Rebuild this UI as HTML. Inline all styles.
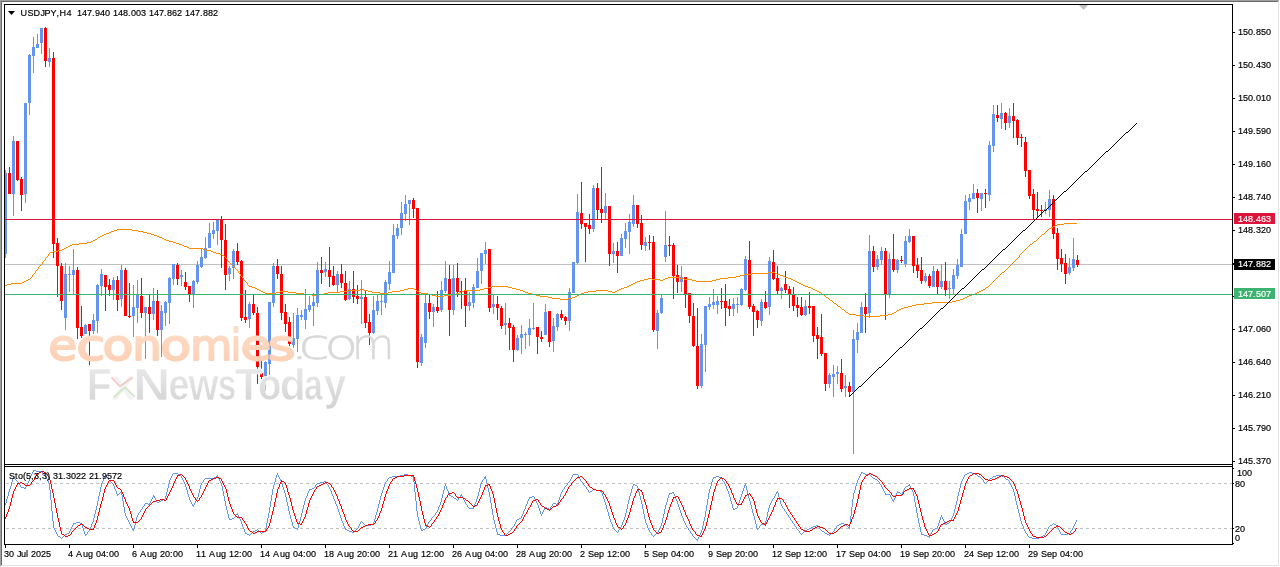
<!DOCTYPE html><html><head><meta charset="utf-8"><title>USDJPY,H4</title>
<style>html,body{margin:0;padding:0;background:#fff;overflow:hidden}body{width:1280px;height:567px;position:relative;font-family:"Liberation Sans",sans-serif}svg{position:absolute;left:0;top:0;display:block}text{font-family:"Liberation Sans",sans-serif}</style></head><body>
<svg width="1280" height="567" viewBox="0 0 1280 567">
<rect x="0" y="0" width="1280" height="567" fill="#fff"/>
<g shape-rendering="crispEdges">
<rect x="0" y="0" width="1279" height="1" fill="#a0a0a0"/><rect x="0" y="0" width="1" height="566" fill="#a0a0a0"/>
<rect x="1" y="1" width="1277" height="1" fill="#696969"/><rect x="1" y="1" width="1" height="564" fill="#696969"/>
<rect x="1278" y="1" width="1" height="565" fill="#e3e3e3"/><rect x="1" y="565" width="1278" height="1" fill="#e3e3e3"/>
</g>
<g shape-rendering="crispEdges">
<rect x="5" y="264" width="1227" height="1" fill="#c0c0c0"/>
<path d="M5.5 170V258M13.5 136V216M25.5 103V203M29.5 54V115M33.5 37V73M37.5 34V48M41.5 28V54M49.5 48V67M65.5 263V330M69.5 266V292M73.5 249V294M85.5 324V334M93.5 314V334M97.5 284V333M101.5 269V296M113.5 277V300M121.5 265V307M133.5 285V337M137.5 280V323M145.5 307V359M153.5 288V320M161.5 305V357M165.5 301V326M169.5 277V324M173.5 264V285M181.5 270V286M193.5 280V308M197.5 261V284M201.5 249V268M205.5 237V259M209.5 223V248M213.5 222V239M217.5 219V245M229.5 266V281M233.5 249V279M249.5 302V328M265.5 361V391M269.5 302V375M273.5 263V307M293.5 313V348M297.5 308V352M301.5 310V320M305.5 289V329M309.5 296V312M313.5 293V326M317.5 262V307M325.5 262V277M337.5 271V292M349.5 281V300M361.5 280V324M373.5 296V334M377.5 294V315M381.5 294V315M385.5 280V308M389.5 261V290M393.5 224V273M397.5 224V239M401.5 202V235M405.5 195V221M409.5 200V225M421.5 334V366M425.5 295V348M433.5 304V327M441.5 281V312M445.5 261V293M453.5 265V315M469.5 292V311M473.5 284V308M477.5 258V288M481.5 253V284M485.5 242V264M493.5 295V314M505.5 303V335M517.5 335V351M521.5 325V354M525.5 332V349M529.5 319V346M533.5 303V330M545.5 304V335M553.5 318V352M557.5 313V331M569.5 288V331M573.5 262V293M577.5 194V264M593.5 185V232M605.5 193V219M613.5 243V263M621.5 234V256M625.5 223V248M629.5 214V254M633.5 195V227M645.5 237V251M657.5 310V349M661.5 295V314M665.5 211V262M681.5 266V292M701.5 334V388M705.5 306V372M709.5 297V310M713.5 289V309M717.5 296V314M733.5 298V316M737.5 297V313M741.5 288V306M745.5 256V291M761.5 299V326M769.5 257V315M781.5 287V299M805.5 300V316M829.5 373V388M833.5 365V397M837.5 366V384M845.5 375V397M853.5 330V454M857.5 323V353M861.5 302V333M869.5 235V318M877.5 255V270M881.5 247V265M889.5 253V298M897.5 259V273M905.5 236V267M909.5 229V243M925.5 273V283M933.5 266V287M941.5 264V289M949.5 281V299M953.5 269V294M957.5 259V279M961.5 229V267M965.5 195V234M969.5 194V210M973.5 184V199M981.5 193V211M989.5 141V201M993.5 105V152M1001.5 103V129M1009.5 108V128M1045.5 202V214M1049.5 190V217M1069.5 258V275M1073.5 238V271" stroke="#6495ed" stroke-width="1" fill="none"/>
<path d="M4 173h3v81h-3zM12 141h3v53h-3zM24 103h3v91h-3zM28 55h3v48h-3zM32 47h3v9h-3zM36 44h3v4h-3zM40 28h3v15h-3zM48 58h3v4h-3zM64 274h3v44h-3zM68 274h3v1h-3zM72 270h3v5h-3zM84 325h3v9h-3zM92 320h3v11h-3zM96 285h3v36h-3zM100 274h3v12h-3zM112 280h3v10h-3zM120 270h3v29h-3zM132 307h3v9h-3zM136 294h3v14h-3zM144 307h3v6h-3zM152 301h3v13h-3zM160 311h3v19h-3zM164 302h3v11h-3zM168 278h3v25h-3zM172 264h3v15h-3zM180 275h3v2h-3zM192 281h3v13h-3zM196 265h3v17h-3zM200 257h3v10h-3zM204 248h3v10h-3zM208 233h3v15h-3zM212 230h3v4h-3zM216 219h3v12h-3zM228 268h3v6h-3zM232 251h3v17h-3zM248 304h3v15h-3zM264 362h3v14h-3zM268 302h3v62h-3zM272 266h3v37h-3zM292 338h3v7h-3zM296 315h3v24h-3zM300 315h3v2h-3zM304 309h3v11h-3zM308 305h3v5h-3zM312 302h3v4h-3zM316 270h3v33h-3zM324 269h3v3h-3zM336 274h3v11h-3zM348 289h3v10h-3zM360 297h3v2h-3zM372 310h3v23h-3zM376 301h3v10h-3zM380 301h3v1h-3zM384 282h3v21h-3zM388 272h3v12h-3zM392 235h3v38h-3zM396 228h3v8h-3zM400 213h3v15h-3zM404 204h3v10h-3zM408 200h3v4h-3zM420 337h3v26h-3zM424 303h3v40h-3zM432 307h3v5h-3zM440 290h3v20h-3zM444 278h3v13h-3zM452 278h3v32h-3zM468 302h3v4h-3zM472 287h3v16h-3zM476 271h3v17h-3zM480 253h3v18h-3zM484 250h3v4h-3zM492 304h3v3h-3zM504 323h3v2h-3zM516 338h3v12h-3zM520 334h3v4h-3zM524 334h3v1h-3zM528 328h3v7h-3zM532 328h3v1h-3zM544 312h3v23h-3zM552 326h3v15h-3zM556 314h3v13h-3zM568 292h3v29h-3zM572 262h3v31h-3zM576 212h3v51h-3zM592 188h3v41h-3zM604 206h3v7h-3zM612 251h3v3h-3zM620 238h3v18h-3zM624 231h3v8h-3zM628 222h3v10h-3zM632 205h3v19h-3zM644 242h3v4h-3zM656 313h3v18h-3zM660 298h3v15h-3zM664 245h3v12h-3zM680 277h3v5h-3zM700 344h3v42h-3zM704 306h3v39h-3zM708 304h3v3h-3zM712 302h3v3h-3zM716 301h3v4h-3zM732 304h3v5h-3zM736 304h3v1h-3zM740 289h3v16h-3zM744 259h3v31h-3zM760 302h3v19h-3zM768 261h3v46h-3zM780 288h3v3h-3zM804 306h3v9h-3zM828 375h3v9h-3zM832 374h3v3h-3zM836 372h3v2h-3zM844 386h3v2h-3zM852 339h3v53h-3zM856 332h3v8h-3zM860 307h3v26h-3zM868 251h3v62h-3zM876 259h3v8h-3zM880 251h3v9h-3zM888 259h3v35h-3zM896 260h3v10h-3zM904 241h3v23h-3zM908 236h3v6h-3zM924 276h3v5h-3zM932 271h3v16h-3zM940 281h3v6h-3zM948 288h3v1h-3zM952 275h3v14h-3zM956 265h3v11h-3zM960 234h3v33h-3zM964 201h3v33h-3zM968 198h3v4h-3zM972 193h3v6h-3zM980 193h3v6h-3zM988 145h3v50h-3zM992 114h3v32h-3zM1000 113h3v6h-3zM1008 116h3v7h-3zM1044 209h3v2h-3zM1048 199h3v11h-3zM1068 267h3v6h-3zM1072 259h3v9h-3z" fill="#6495ed"/>
<path d="M9.5 167V194M17.5 141V181M21.5 177V211M45.5 27V67M53.5 52V258M57.5 238V297M61.5 263V310M77.5 267V339M81.5 306V338M89.5 324V365M105.5 275V311M109.5 279V296M117.5 276V311M125.5 268V316M129.5 283V318M141.5 278V318M149.5 295V333M157.5 290V336M177.5 263V285M185.5 272V290M189.5 286V302M221.5 216V268M225.5 224V290M237.5 243V265M241.5 260V321M245.5 290V323M253.5 295V315M257.5 307V384M261.5 358V379M277.5 259V279M281.5 266V320M285.5 304V332M289.5 317V346M321.5 257V284M329.5 247V287M333.5 266V286M341.5 264V288M345.5 271V301M353.5 271V303M357.5 285V304M365.5 290V328M369.5 314V345M413.5 198V218M417.5 208V368M429.5 295V319M437.5 291V313M449.5 265V336M457.5 263V297M461.5 281V309M465.5 278V327M489.5 249V312M497.5 296V320M501.5 306V329M509.5 318V350M513.5 325V362M537.5 327V354M541.5 331V342M549.5 311V347M561.5 310V320M565.5 316V325M581.5 182V229M585.5 223V262M589.5 214V234M597.5 183V219M601.5 167V223M609.5 206V266M617.5 242V273M637.5 205V228M641.5 215V250M649.5 235V250M653.5 236V332M669.5 236V256M673.5 243V299M677.5 265V293M685.5 277V308M689.5 293V323M693.5 303V347M697.5 308V389M721.5 288V309M725.5 284V326M729.5 299V316M749.5 241V309M753.5 304V336M757.5 310V328M765.5 291V309M773.5 250V280M777.5 266V294M785.5 271V293M789.5 286V308M793.5 287V311M797.5 297V317M801.5 297V316M809.5 292V314M813.5 306V342M817.5 327V359M821.5 314V356M825.5 353V391M841.5 359V392M849.5 382V397M865.5 293V333M873.5 246V272M885.5 248V320M893.5 234V272M901.5 256V263M913.5 236V273M917.5 258V278M921.5 257V284M929.5 274V288M937.5 269V294M945.5 262V296M977.5 189V213M985.5 189V208M997.5 105V122M1005.5 112V130M1013.5 103V138M1017.5 119V145M1021.5 134V147M1025.5 137V177M1029.5 170V199M1033.5 189V219M1037.5 192V217M1041.5 205V217M1053.5 195V239M1057.5 228V270M1061.5 249V272M1065.5 254V284M1077.5 255V267" stroke="#ff0000" stroke-width="1" fill="none"/>
<path d="M8 173h3v21h-3zM16 141h3v39h-3zM20 179h3v16h-3zM44 28h3v33h-3zM52 58h3v186h-3zM56 243h3v23h-3zM60 266h3v35h-3zM76 270h3v58h-3zM80 327h3v9h-3zM88 324h3v7h-3zM104 275h3v12h-3zM108 285h3v5h-3zM116 280h3v20h-3zM124 270h3v46h-3zM128 316h3v1h-3zM140 296h3v17h-3zM148 307h3v7h-3zM156 301h3v29h-3zM176 265h3v14h-3zM184 282h3v5h-3zM188 286h3v8h-3zM220 219h3v21h-3zM224 240h3v35h-3zM236 251h3v11h-3zM240 261h3v57h-3zM244 317h3v3h-3zM252 304h3v9h-3zM256 313h3v54h-3zM260 373h3v4h-3zM276 266h3v8h-3zM280 274h3v39h-3zM284 312h3v12h-3zM288 322h3v22h-3zM320 270h3v3h-3zM328 270h3v7h-3zM332 276h3v9h-3zM340 274h3v9h-3zM344 283h3v17h-3zM352 289h3v8h-3zM356 296h3v3h-3zM364 297h3v26h-3zM368 322h3v11h-3zM412 200h3v9h-3zM416 208h3v154h-3zM428 303h3v9h-3zM436 307h3v4h-3zM448 279h3v31h-3zM456 278h3v14h-3zM460 291h3v1h-3zM464 290h3v16h-3zM488 249h3v59h-3zM496 304h3v4h-3zM500 308h3v18h-3zM508 323h3v5h-3zM512 327h3v23h-3zM536 327h3v10h-3zM540 337h3v2h-3zM548 311h3v31h-3zM560 314h3v4h-3zM564 317h3v4h-3zM580 213h3v11h-3zM584 223h3v4h-3zM588 225h3v4h-3zM596 188h3v22h-3zM600 209h3v4h-3zM608 206h3v48h-3zM616 251h3v5h-3zM636 205h3v19h-3zM640 223h3v22h-3zM648 242h3v1h-3zM652 242h3v88h-3zM668 245h3v1h-3zM672 245h3v31h-3zM676 275h3v7h-3zM684 277h3v17h-3zM688 293h3v23h-3zM692 316h3v30h-3zM696 346h3v40h-3zM720 301h3v1h-3zM724 301h3v7h-3zM728 306h3v3h-3zM748 260h3v47h-3zM752 306h3v6h-3zM756 311h3v9h-3zM764 302h3v6h-3zM772 262h3v17h-3zM776 278h3v13h-3zM784 284h3v6h-3zM788 289h3v5h-3zM792 294h3v12h-3zM796 305h3v3h-3zM800 307h3v8h-3zM808 306h3v2h-3zM812 306h3v30h-3zM816 335h3v4h-3zM820 337h3v17h-3zM824 353h3v31h-3zM840 373h3v16h-3zM848 386h3v6h-3zM864 307h3v7h-3zM872 251h3v16h-3zM884 251h3v43h-3zM892 259h3v11h-3zM900 260h3v1h-3zM912 236h3v30h-3zM916 265h3v6h-3zM920 270h3v11h-3zM928 276h3v10h-3zM936 271h3v16h-3zM944 281h3v9h-3zM976 193h3v5h-3zM984 193h3v1h-3zM996 115h3v3h-3zM1004 113h3v10h-3zM1012 116h3v5h-3zM1016 120h3v18h-3zM1020 137h3v1h-3zM1024 142h3v29h-3zM1028 170h3v26h-3zM1032 194h3v16h-3zM1036 209h3v2h-3zM1040 210h3v1h-3zM1052 199h3v35h-3zM1056 233h3v26h-3zM1060 258h3v6h-3zM1064 263h3v11h-3zM1076 260h3v5h-3z" fill="#ff0000"/>
</g>
<path d="M5.5 285v1M6.5 285v1M7.5 284v1M8.5 284v1M9.5 284v1M10.5 284v1M11.5 283v1M12.5 283v1M13.5 283v1M14.5 283v1M15.5 283v1M16.5 283v1M17.5 283v1M18.5 283v1M19.5 283v1M20.5 283v1M21.5 283v1M22.5 282v1M23.5 282v1M24.5 281v1M25.5 281v1M26.5 280v1M27.5 280v1M28.5 279v1M29.5 279v1M30.5 278v1M31.5 277v1M32.5 275v2M33.5 274v1M34.5 273v1M35.5 271v2M36.5 270v1M37.5 269v1M38.5 267v2M39.5 266v1M40.5 265v1M41.5 264v1M42.5 262v2M43.5 261v1M44.5 260v1M45.5 258v2M46.5 257v1M47.5 256v1M48.5 254v2M49.5 253v1M50.5 252v1M51.5 252v1M52.5 252v1M53.5 251v1M54.5 251v1M55.5 251v1M56.5 251v1M57.5 251v1M58.5 250v1M59.5 250v1M60.5 250v1M61.5 250v1M62.5 249v1M63.5 249v1M64.5 248v1M65.5 248v1M66.5 247v1M67.5 247v1M68.5 246v1M69.5 246v1M70.5 245v1M71.5 245v1M72.5 244v1M73.5 244v1M74.5 244v1M75.5 244v1M76.5 244v1M77.5 244v1M78.5 244v1M79.5 243v1M80.5 243v1M81.5 243v1M82.5 243v1M83.5 243v1M84.5 243v1M85.5 243v1M86.5 243v1M87.5 242v1M88.5 242v1M89.5 242v1M90.5 242v1M91.5 241v1M92.5 241v1M93.5 240v1M94.5 240v1M95.5 239v1M96.5 239v1M97.5 238v1M98.5 237v1M99.5 237v1M100.5 236v1M101.5 236v1M102.5 235v1M103.5 235v1M104.5 234v1M105.5 234v1M106.5 233v1M107.5 233v1M108.5 233v1M109.5 232v1M110.5 232v1M111.5 231v1M112.5 231v1M113.5 231v1M114.5 230v1M115.5 230v1M116.5 230v1M117.5 229v1M118.5 229v1M119.5 229v1M120.5 229v1M121.5 229v1M122.5 229v1M123.5 229v1M124.5 229v1M125.5 229v1M126.5 229v1M127.5 229v1M128.5 229v1M129.5 229v1M130.5 229v1M131.5 229v1M132.5 230v1M133.5 230v1M134.5 230v1M135.5 230v1M136.5 230v1M137.5 230v1M138.5 231v1M139.5 231v1M140.5 231v1M141.5 231v1M142.5 231v1M143.5 232v1M144.5 232v1M145.5 232v1M146.5 232v1M147.5 233v1M148.5 233v1M149.5 233v1M150.5 233v1M151.5 234v1M152.5 234v1M153.5 234v1M154.5 235v1M155.5 235v1M156.5 235v1M157.5 236v1M158.5 236v1M159.5 237v1M160.5 237v1M161.5 237v1M162.5 238v1M163.5 238v1M164.5 239v1M165.5 239v1M166.5 240v1M167.5 240v1M168.5 240v1M169.5 241v1M170.5 241v1M171.5 241v1M172.5 241v1M173.5 242v1M174.5 242v1M175.5 242v1M176.5 243v1M177.5 243v1M178.5 243v1M179.5 244v1M180.5 244v1M181.5 244v1M182.5 245v1M183.5 245v1M184.5 246v1M185.5 246v1M186.5 246v1M187.5 247v1M188.5 247v1M189.5 248v1M190.5 248v1M191.5 248v1M192.5 248v1M193.5 248v1M194.5 248v1M195.5 248v1M196.5 248v1M197.5 248v1M198.5 248v1M199.5 248v1M200.5 248v1M201.5 248v1M202.5 248v1M203.5 249v1M204.5 249v1M205.5 250v1M206.5 250v1M207.5 250v1M208.5 250v1M209.5 250v1M210.5 250v1M211.5 251v1M212.5 251v1M213.5 252v1M214.5 252v1M215.5 252v1M216.5 253v1M217.5 253v1M218.5 253v1M219.5 253v1M220.5 254v1M221.5 254v1M222.5 255v1M223.5 255v1M224.5 256v1M225.5 257v1M226.5 258v1M227.5 259v2M228.5 261v1M229.5 262v1M230.5 263v1M231.5 264v1M232.5 265v1M233.5 266v1M234.5 267v1M235.5 268v1M236.5 269v1M237.5 270v1M238.5 271v2M239.5 273v1M240.5 274v2M241.5 276v1M242.5 277v1M243.5 278v2M244.5 280v1M245.5 281v1M246.5 282v1M247.5 283v2M248.5 285v1M249.5 286v1M250.5 286v1M251.5 286v1M252.5 287v1M253.5 287v1M254.5 287v1M255.5 288v1M256.5 288v1M257.5 289v1M258.5 289v1M259.5 290v1M260.5 290v1M261.5 291v1M262.5 291v1M263.5 292v1M264.5 292v1M265.5 293v1M266.5 293v1M267.5 293v1M268.5 293v1M269.5 293v1M270.5 293v1M271.5 293v1M272.5 293v1M273.5 293v1M274.5 293v1M275.5 293v1M276.5 292v1M277.5 292v1M278.5 292v1M279.5 292v1M280.5 291v1M281.5 291v1M282.5 291v1M283.5 291v1M284.5 291v1M285.5 291v1M286.5 291v1M287.5 291v1M288.5 292v1M289.5 292v1M290.5 292v1M291.5 292v1M292.5 292v1M293.5 292v1M294.5 292v1M295.5 292v1M296.5 293v1M297.5 293v1M298.5 293v1M299.5 293v1M300.5 293v1M301.5 293v1M302.5 293v1M303.5 293v1M304.5 294v1M305.5 294v1M306.5 294v1M307.5 294v1M308.5 294v1M309.5 294v1M310.5 294v1M311.5 294v1M312.5 295v1M313.5 295v1M314.5 295v1M315.5 295v1M316.5 294v1M317.5 294v1M318.5 294v1M319.5 294v1M320.5 294v1M321.5 294v1M322.5 294v1M323.5 294v1M324.5 293v1M325.5 293v1M326.5 293v1M327.5 293v1M328.5 292v1M329.5 292v1M330.5 292v1M331.5 292v1M332.5 292v1M333.5 292v1M334.5 292v1M335.5 292v1M336.5 292v1M337.5 292v1M338.5 292v1M339.5 292v1M340.5 291v1M341.5 291v1M342.5 291v1M343.5 291v1M344.5 291v1M345.5 291v1M346.5 291v1M347.5 291v1M348.5 290v1M349.5 290v1M350.5 290v1M351.5 290v1M352.5 290v1M353.5 290v1M354.5 290v1M355.5 290v1M356.5 290v1M357.5 290v1M358.5 290v1M359.5 290v1M360.5 289v1M361.5 289v1M362.5 289v1M363.5 289v1M364.5 290v1M365.5 290v1M366.5 290v1M367.5 290v1M368.5 291v1M369.5 291v1M370.5 291v1M371.5 291v1M372.5 292v1M373.5 292v1M374.5 292v1M375.5 292v1M376.5 292v1M377.5 292v1M378.5 292v1M379.5 292v1M380.5 293v1M381.5 293v1M382.5 293v1M383.5 293v1M384.5 293v1M385.5 293v1M386.5 293v1M387.5 293v1M388.5 292v1M389.5 292v1M390.5 292v1M391.5 292v1M392.5 291v1M393.5 291v1M394.5 291v1M395.5 291v1M396.5 291v1M397.5 291v1M398.5 291v1M399.5 291v1M400.5 290v1M401.5 290v1M402.5 290v1M403.5 290v1M404.5 289v1M405.5 289v1M406.5 289v1M407.5 289v1M408.5 288v1M409.5 288v1M410.5 288v1M411.5 288v1M412.5 288v1M413.5 288v1M414.5 289v1M415.5 289v1M416.5 290v1M417.5 291v1M418.5 291v1M419.5 292v1M420.5 292v1M421.5 293v1M422.5 293v1M423.5 293v1M424.5 293v1M425.5 293v1M426.5 293v1M427.5 293v1M428.5 294v1M429.5 294v1M430.5 294v1M431.5 294v1M432.5 295v1M433.5 295v1M434.5 295v1M435.5 295v1M436.5 296v1M437.5 296v1M438.5 296v1M439.5 296v1M440.5 296v1M441.5 296v1M442.5 296v1M443.5 296v1M444.5 295v1M445.5 295v1M446.5 295v1M447.5 295v1M448.5 295v1M449.5 295v1M450.5 295v1M451.5 295v1M452.5 294v1M453.5 294v1M454.5 294v1M455.5 294v1M456.5 293v1M457.5 293v1M458.5 293v1M459.5 292v1M460.5 292v1M461.5 291v1M462.5 291v1M463.5 291v1M464.5 290v1M465.5 290v1M466.5 290v1M467.5 290v1M468.5 290v1M469.5 290v1M470.5 290v1M471.5 290v1M472.5 290v1M473.5 290v1M474.5 290v1M475.5 290v1M476.5 290v1M477.5 290v1M478.5 290v1M479.5 290v1M480.5 289v1M481.5 289v1M482.5 289v1M483.5 289v1M484.5 288v1M485.5 288v1M486.5 288v1M487.5 288v1M488.5 287v1M489.5 287v1M490.5 287v1M491.5 287v1M492.5 286v1M493.5 286v1M494.5 286v1M495.5 286v1M496.5 286v1M497.5 286v1M498.5 286v1M499.5 286v1M500.5 286v1M501.5 286v1M502.5 286v1M503.5 286v1M504.5 286v1M505.5 286v1M506.5 286v1M507.5 286v1M508.5 287v1M509.5 287v1M510.5 287v1M511.5 287v1M512.5 288v1M513.5 288v1M514.5 288v1M515.5 288v1M516.5 289v1M517.5 289v1M518.5 289v1M519.5 289v1M520.5 290v1M521.5 290v1M522.5 290v1M523.5 291v1M524.5 291v1M525.5 292v1M526.5 292v1M527.5 292v1M528.5 293v1M529.5 293v1M530.5 293v1M531.5 293v1M532.5 294v1M533.5 294v1M534.5 294v1M535.5 294v1M536.5 295v1M537.5 295v1M538.5 295v1M539.5 295v1M540.5 296v1M541.5 296v1M542.5 296v1M543.5 296v1M544.5 296v1M545.5 296v1M546.5 296v1M547.5 296v1M548.5 297v1M549.5 297v1M550.5 297v1M551.5 297v1M552.5 298v1M553.5 298v1M554.5 298v1M555.5 298v1M556.5 298v1M557.5 298v1M558.5 298v1M559.5 298v1M560.5 299v1M561.5 299v1M562.5 299v1M563.5 299v1M564.5 299v1M565.5 299v1M566.5 299v1M567.5 299v1M568.5 298v1M569.5 298v1M570.5 298v1M571.5 298v1M572.5 297v1M573.5 297v1M574.5 297v1M575.5 296v1M576.5 296v1M577.5 295v1M578.5 295v1M579.5 294v1M580.5 294v1M581.5 293v1M582.5 293v1M583.5 293v1M584.5 292v1M585.5 292v1M586.5 292v1M587.5 292v1M588.5 291v1M589.5 291v1M590.5 291v1M591.5 291v1M592.5 291v1M593.5 291v1M594.5 291v1M595.5 291v1M596.5 290v1M597.5 290v1M598.5 290v1M599.5 290v1M600.5 290v1M601.5 290v1M602.5 290v1M603.5 290v1M604.5 290v1M605.5 290v1M606.5 290v1M607.5 290v1M608.5 291v1M609.5 291v1M610.5 291v1M611.5 291v1M612.5 292v1M613.5 292v1M614.5 292v1M615.5 291v1M616.5 291v1M617.5 290v1M618.5 290v1M619.5 289v1M620.5 289v1M621.5 288v1M622.5 288v1M623.5 288v1M624.5 287v1M625.5 287v1M626.5 287v1M627.5 286v1M628.5 286v1M629.5 285v1M630.5 285v1M631.5 284v1M632.5 284v1M633.5 283v1M634.5 283v1M635.5 282v1M636.5 282v1M637.5 281v1M638.5 281v1M639.5 281v1M640.5 280v1M641.5 280v1M642.5 280v1M643.5 280v1M644.5 279v1M645.5 279v1M646.5 279v1M647.5 279v1M648.5 278v1M649.5 278v1M650.5 278v1M651.5 278v1M652.5 279v1M653.5 279v1M654.5 279v1M655.5 279v1M656.5 279v1M657.5 279v1M658.5 279v1M659.5 279v1M660.5 280v1M661.5 280v1M662.5 280v1M663.5 279v1M664.5 279v1M665.5 278v1M666.5 278v1M667.5 278v1M668.5 277v1M669.5 277v1M670.5 277v1M671.5 277v1M672.5 277v1M673.5 277v1M674.5 277v1M675.5 277v1M676.5 277v1M677.5 277v1M678.5 277v1M679.5 277v1M680.5 278v1M681.5 278v1M682.5 278v1M683.5 278v1M684.5 279v1M685.5 279v1M686.5 279v1M687.5 279v1M688.5 279v1M689.5 279v1M690.5 279v1M691.5 279v1M692.5 280v1M693.5 280v1M694.5 280v1M695.5 280v1M696.5 281v1M697.5 281v1M698.5 281v1M699.5 281v1M700.5 281v1M701.5 281v1M702.5 281v1M703.5 281v1M704.5 281v1M705.5 281v1M706.5 281v1M707.5 281v1M708.5 281v1M709.5 281v1M710.5 281v1M711.5 281v1M712.5 280v1M713.5 280v1M714.5 280v1M715.5 280v1M716.5 279v1M717.5 279v1M718.5 279v1M719.5 279v1M720.5 278v1M721.5 278v1M722.5 278v1M723.5 278v1M724.5 278v1M725.5 278v1M726.5 278v1M727.5 278v1M728.5 277v1M729.5 277v1M730.5 277v1M731.5 277v1M732.5 277v1M733.5 277v1M734.5 277v1M735.5 277v1M736.5 276v1M737.5 276v1M738.5 276v1M739.5 276v1M740.5 275v1M741.5 275v1M742.5 275v1M743.5 275v1M744.5 274v1M745.5 274v1M746.5 274v1M747.5 274v1M748.5 274v1M749.5 274v1M750.5 274v1M751.5 274v1M752.5 273v1M753.5 273v1M754.5 273v1M755.5 273v1M756.5 273v1M757.5 273v1M758.5 273v1M759.5 273v1M760.5 273v1M761.5 273v1M762.5 273v1M763.5 273v1M764.5 273v1M765.5 273v1M766.5 273v1M767.5 273v1M768.5 272v1M769.5 272v1M770.5 272v1M771.5 272v1M772.5 272v1M773.5 272v1M774.5 272v1M775.5 273v1M776.5 273v1M777.5 274v1M778.5 274v1M779.5 274v1M780.5 275v1M781.5 275v1M782.5 275v1M783.5 276v1M784.5 276v1M785.5 277v1M786.5 277v1M787.5 277v1M788.5 278v1M789.5 278v1M790.5 278v1M791.5 279v1M792.5 279v1M793.5 280v1M794.5 280v1M795.5 281v1M796.5 281v1M797.5 282v1M798.5 282v1M799.5 283v1M800.5 283v1M801.5 284v1M802.5 284v1M803.5 285v1M804.5 285v1M805.5 286v1M806.5 286v1M807.5 286v1M808.5 287v1M809.5 287v1M810.5 287v1M811.5 288v1M812.5 288v1M813.5 289v1M814.5 289v1M815.5 290v1M816.5 290v1M817.5 291v1M818.5 291v1M819.5 292v1M820.5 292v1M821.5 293v1M822.5 294v1M823.5 294v1M824.5 295v1M825.5 296v1M826.5 297v1M827.5 297v1M828.5 298v1M829.5 299v1M830.5 300v1M831.5 300v1M832.5 301v1M833.5 302v1M834.5 303v1M835.5 303v1M836.5 304v1M837.5 305v1M838.5 306v1M839.5 306v1M840.5 307v1M841.5 308v1M842.5 309v1M843.5 309v1M844.5 310v1M845.5 311v1M846.5 312v1M847.5 312v1M848.5 313v1M849.5 314v1M850.5 314v1M851.5 314v1M852.5 314v1M853.5 314v1M854.5 314v1M855.5 314v1M856.5 315v1M857.5 315v1M858.5 315v1M859.5 315v1M860.5 315v1M861.5 315v1M862.5 315v1M863.5 315v1M864.5 316v1M865.5 316v1M866.5 316v1M867.5 316v1M868.5 316v1M869.5 316v1M870.5 316v1M871.5 316v1M872.5 316v1M873.5 316v1M874.5 316v1M875.5 316v1M876.5 316v1M877.5 316v1M878.5 316v1M879.5 316v1M880.5 315v1M881.5 315v1M882.5 315v1M883.5 315v1M884.5 315v1M885.5 315v1M886.5 315v1M887.5 315v1M888.5 314v1M889.5 314v1M890.5 314v1M891.5 314v1M892.5 313v1M893.5 313v1M894.5 312v1M895.5 312v1M896.5 311v1M897.5 310v1M898.5 310v1M899.5 309v1M900.5 309v1M901.5 308v1M902.5 308v1M903.5 308v1M904.5 307v1M905.5 307v1M906.5 307v1M907.5 307v1M908.5 306v1M909.5 306v1M910.5 306v1M911.5 306v1M912.5 305v1M913.5 305v1M914.5 305v1M915.5 305v1M916.5 304v1M917.5 304v1M918.5 304v1M919.5 304v1M920.5 304v1M921.5 304v1M922.5 304v1M923.5 304v1M924.5 303v1M925.5 303v1M926.5 303v1M927.5 303v1M928.5 303v1M929.5 303v1M930.5 303v1M931.5 303v1M932.5 302v1M933.5 302v1M934.5 302v1M935.5 302v1M936.5 302v1M937.5 302v1M938.5 302v1M939.5 302v1M940.5 302v1M941.5 302v1M942.5 302v1M943.5 302v1M944.5 302v1M945.5 302v1M946.5 302v1M947.5 302v1M948.5 302v1M949.5 302v1M950.5 302v1M951.5 302v1M952.5 301v1M953.5 301v1M954.5 301v1M955.5 301v1M956.5 300v1M957.5 300v1M958.5 300v1M959.5 300v1M960.5 299v1M961.5 299v1M962.5 299v1M963.5 298v1M964.5 298v1M965.5 297v1M966.5 297v1M967.5 296v1M968.5 296v1M969.5 295v1M970.5 295v1M971.5 295v1M972.5 294v1M973.5 294v1M974.5 294v1M975.5 293v1M976.5 293v1M977.5 292v1M978.5 292v1M979.5 291v1M980.5 291v1M981.5 290v1M982.5 290v1M983.5 289v1M984.5 289v1M985.5 288v1M986.5 287v1M987.5 287v1M988.5 286v1M989.5 285v1M990.5 284v1M991.5 283v1M992.5 282v1M993.5 281v1M994.5 280v1M995.5 279v1M996.5 278v1M997.5 277v1M998.5 276v1M999.5 275v1M1000.5 274v1M1001.5 273v1M1002.5 272v1M1003.5 272v1M1004.5 271v1M1005.5 270v1M1006.5 269v1M1007.5 268v1M1008.5 267v1M1009.5 266v1M1010.5 265v1M1011.5 264v1M1012.5 263v1M1013.5 262v1M1014.5 261v1M1015.5 260v1M1016.5 259v1M1017.5 258v1M1018.5 257v1M1019.5 255v2M1020.5 254v1M1021.5 253v1M1022.5 252v1M1023.5 251v1M1024.5 250v1M1025.5 249v1M1026.5 248v1M1027.5 247v1M1028.5 246v1M1029.5 245v1M1030.5 244v1M1031.5 244v1M1032.5 243v1M1033.5 242v1M1034.5 241v1M1035.5 241v1M1036.5 240v1M1037.5 239v1M1038.5 238v1M1039.5 237v1M1040.5 236v1M1041.5 235v1M1042.5 234v1M1043.5 234v1M1044.5 233v1M1045.5 232v1M1046.5 231v1M1047.5 230v1M1048.5 229v1M1049.5 228v1M1050.5 228v1M1051.5 227v1M1052.5 227v1M1053.5 226v1M1054.5 226v1M1055.5 225v1M1056.5 225v1M1057.5 224v1M1058.5 224v1M1059.5 224v1M1060.5 224v1M1061.5 224v1M1062.5 224v1M1063.5 224v1M1064.5 223v1M1065.5 223v1M1066.5 223v1M1067.5 223v1M1068.5 223v1M1069.5 223v1M1070.5 223v1M1071.5 223v1M1072.5 223v1M1073.5 223v1M1074.5 223v1M1075.5 223v1M1076.5 223v1" stroke="#ff8c00" stroke-width="1" fill="none" shape-rendering="crispEdges"/>
<g shape-rendering="crispEdges">
<rect x="5" y="219" width="1227" height="1" fill="#dc143c"/>
<rect x="5" y="294" width="1227" height="1" fill="#3cb371"/>
</g>
<path d="M849.5 396v1M850.5 395v1M851.5 394v1M852.5 393v1M853.5 392v1M854.5 391v1M855.5 390v1M856.5 389v1M857.5 388v1M858.5 387v1M859.5 386v1M860.5 386v1M861.5 385v1M862.5 384v1M863.5 383v1M864.5 382v1M865.5 381v1M866.5 380v1M867.5 379v1M868.5 378v1M869.5 377v1M870.5 376v1M871.5 375v1M872.5 374v1M873.5 373v1M874.5 372v1M875.5 371v1M876.5 370v1M877.5 369v1M878.5 368v1M879.5 367v1M880.5 367v1M881.5 366v1M882.5 365v1M883.5 364v1M884.5 363v1M885.5 362v1M886.5 361v1M887.5 360v1M888.5 359v1M889.5 358v1M890.5 357v1M891.5 356v1M892.5 355v1M893.5 354v1M894.5 353v1M895.5 352v1M896.5 351v1M897.5 350v1M898.5 349v1M899.5 348v1M900.5 347v1M901.5 347v1M902.5 346v1M903.5 345v1M904.5 344v1M905.5 343v1M906.5 342v1M907.5 341v1M908.5 340v1M909.5 339v1M910.5 338v1M911.5 337v1M912.5 336v1M913.5 335v1M914.5 334v1M915.5 333v1M916.5 332v1M917.5 331v1M918.5 330v1M919.5 329v1M920.5 328v1M921.5 328v1M922.5 327v1M923.5 326v1M924.5 325v1M925.5 324v1M926.5 323v1M927.5 322v1M928.5 321v1M929.5 320v1M930.5 319v1M931.5 318v1M932.5 317v1M933.5 316v1M934.5 315v1M935.5 314v1M936.5 313v1M937.5 312v1M938.5 311v1M939.5 310v1M940.5 309v1M941.5 308v1M942.5 308v1M943.5 307v1M944.5 306v1M945.5 305v1M946.5 304v1M947.5 303v1M948.5 302v1M949.5 301v1M950.5 300v1M951.5 299v1M952.5 298v1M953.5 297v1M954.5 296v1M955.5 295v1M956.5 294v1M957.5 293v1M958.5 292v1M959.5 291v1M960.5 290v1M961.5 289v1M962.5 288v1M963.5 288v1M964.5 287v1M965.5 286v1M966.5 285v1M967.5 284v1M968.5 283v1M969.5 282v1M970.5 281v1M971.5 280v1M972.5 279v1M973.5 278v1M974.5 277v1M975.5 276v1M976.5 275v1M977.5 274v1M978.5 273v1M979.5 272v1M980.5 271v1M981.5 270v1M982.5 269v1M983.5 269v1M984.5 268v1M985.5 267v1M986.5 266v1M987.5 265v1M988.5 264v1M989.5 263v1M990.5 262v1M991.5 261v1M992.5 260v1M993.5 259v1M994.5 258v1M995.5 257v1M996.5 256v1M997.5 255v1M998.5 254v1M999.5 253v1M1000.5 252v1M1001.5 251v1M1002.5 250v1M1003.5 249v1M1004.5 249v1M1005.5 248v1M1006.5 247v1M1007.5 246v1M1008.5 245v1M1009.5 244v1M1010.5 243v1M1011.5 242v1M1012.5 241v1M1013.5 240v1M1014.5 239v1M1015.5 238v1M1016.5 237v1M1017.5 236v1M1018.5 235v1M1019.5 234v1M1020.5 233v1M1021.5 232v1M1022.5 231v1M1023.5 230v1M1024.5 230v1M1025.5 229v1M1026.5 228v1M1027.5 227v1M1028.5 226v1M1029.5 225v1M1030.5 224v1M1031.5 223v1M1032.5 222v1M1033.5 221v1M1034.5 220v1M1035.5 219v1M1036.5 218v1M1037.5 217v1M1038.5 216v1M1039.5 215v1M1040.5 214v1M1041.5 213v1M1042.5 212v1M1043.5 211v1M1044.5 210v1M1045.5 210v1M1046.5 209v1M1047.5 208v1M1048.5 207v1M1049.5 206v1M1050.5 205v1M1051.5 204v1M1052.5 203v1M1053.5 202v1M1054.5 201v1M1055.5 200v1M1056.5 199v1M1057.5 198v1M1058.5 197v1M1059.5 196v1M1060.5 195v1M1061.5 194v1M1062.5 193v1M1063.5 192v1M1064.5 191v1M1065.5 191v1M1066.5 190v1M1067.5 189v1M1068.5 188v1M1069.5 187v1M1070.5 186v1M1071.5 185v1M1072.5 184v1M1073.5 183v1M1074.5 182v1M1075.5 181v1M1076.5 180v1M1077.5 179v1M1078.5 178v1M1079.5 177v1M1080.5 176v1M1081.5 175v1M1082.5 174v1M1083.5 173v1M1084.5 172v1M1085.5 171v1M1086.5 171v1M1087.5 170v1M1088.5 169v1M1089.5 168v1M1090.5 167v1M1091.5 166v1M1092.5 165v1M1093.5 164v1M1094.5 163v1M1095.5 162v1M1096.5 161v1M1097.5 160v1M1098.5 159v1M1099.5 158v1M1100.5 157v1M1101.5 156v1M1102.5 155v1M1103.5 154v1M1104.5 153v1M1105.5 152v1M1106.5 151v1M1107.5 151v1M1108.5 150v1M1109.5 149v1M1110.5 148v1M1111.5 147v1M1112.5 146v1M1113.5 145v1M1114.5 144v1M1115.5 143v1M1116.5 142v1M1117.5 141v1M1118.5 140v1M1119.5 139v1M1120.5 138v1M1121.5 137v1M1122.5 136v1M1123.5 135v1M1124.5 134v1M1125.5 133v1M1126.5 132v1M1127.5 132v1M1128.5 131v1M1129.5 130v1M1130.5 129v1M1131.5 128v1M1132.5 127v1M1133.5 126v1M1134.5 125v1M1135.5 124v1M1136.5 123v1" stroke="#000" stroke-width="1" fill="none" shape-rendering="crispEdges"/>
<g shape-rendering="crispEdges" fill="#c0c0c0">
<path d="M6 483h3v1h-3zM12 483h3v1h-3zM18 483h3v1h-3zM24 483h3v1h-3zM30 483h3v1h-3zM36 483h3v1h-3zM42 483h3v1h-3zM48 483h3v1h-3zM54 483h3v1h-3zM60 483h3v1h-3zM66 483h3v1h-3zM72 483h3v1h-3zM78 483h3v1h-3zM84 483h3v1h-3zM90 483h3v1h-3zM96 483h3v1h-3zM102 483h3v1h-3zM108 483h3v1h-3zM114 483h3v1h-3zM120 483h3v1h-3zM126 483h3v1h-3zM132 483h3v1h-3zM138 483h3v1h-3zM144 483h3v1h-3zM150 483h3v1h-3zM156 483h3v1h-3zM162 483h3v1h-3zM168 483h3v1h-3zM174 483h3v1h-3zM180 483h3v1h-3zM186 483h3v1h-3zM192 483h3v1h-3zM198 483h3v1h-3zM204 483h3v1h-3zM210 483h3v1h-3zM216 483h3v1h-3zM222 483h3v1h-3zM228 483h3v1h-3zM234 483h3v1h-3zM240 483h3v1h-3zM246 483h3v1h-3zM252 483h3v1h-3zM258 483h3v1h-3zM264 483h3v1h-3zM270 483h3v1h-3zM276 483h3v1h-3zM282 483h3v1h-3zM288 483h3v1h-3zM294 483h3v1h-3zM300 483h3v1h-3zM306 483h3v1h-3zM312 483h3v1h-3zM318 483h3v1h-3zM324 483h3v1h-3zM330 483h3v1h-3zM336 483h3v1h-3zM342 483h3v1h-3zM348 483h3v1h-3zM354 483h3v1h-3zM360 483h3v1h-3zM366 483h3v1h-3zM372 483h3v1h-3zM378 483h3v1h-3zM384 483h3v1h-3zM390 483h3v1h-3zM396 483h3v1h-3zM402 483h3v1h-3zM408 483h3v1h-3zM414 483h3v1h-3zM420 483h3v1h-3zM426 483h3v1h-3zM432 483h3v1h-3zM438 483h3v1h-3zM444 483h3v1h-3zM450 483h3v1h-3zM456 483h3v1h-3zM462 483h3v1h-3zM468 483h3v1h-3zM474 483h3v1h-3zM480 483h3v1h-3zM486 483h3v1h-3zM492 483h3v1h-3zM498 483h3v1h-3zM504 483h3v1h-3zM510 483h3v1h-3zM516 483h3v1h-3zM522 483h3v1h-3zM528 483h3v1h-3zM534 483h3v1h-3zM540 483h3v1h-3zM546 483h3v1h-3zM552 483h3v1h-3zM558 483h3v1h-3zM564 483h3v1h-3zM570 483h3v1h-3zM576 483h3v1h-3zM582 483h3v1h-3zM588 483h3v1h-3zM594 483h3v1h-3zM600 483h3v1h-3zM606 483h3v1h-3zM612 483h3v1h-3zM618 483h3v1h-3zM624 483h3v1h-3zM630 483h3v1h-3zM636 483h3v1h-3zM642 483h3v1h-3zM648 483h3v1h-3zM654 483h3v1h-3zM660 483h3v1h-3zM666 483h3v1h-3zM672 483h3v1h-3zM678 483h3v1h-3zM684 483h3v1h-3zM690 483h3v1h-3zM696 483h3v1h-3zM702 483h3v1h-3zM708 483h3v1h-3zM714 483h3v1h-3zM720 483h3v1h-3zM726 483h3v1h-3zM732 483h3v1h-3zM738 483h3v1h-3zM744 483h3v1h-3zM750 483h3v1h-3zM756 483h3v1h-3zM762 483h3v1h-3zM768 483h3v1h-3zM774 483h3v1h-3zM780 483h3v1h-3zM786 483h3v1h-3zM792 483h3v1h-3zM798 483h3v1h-3zM804 483h3v1h-3zM810 483h3v1h-3zM816 483h3v1h-3zM822 483h3v1h-3zM828 483h3v1h-3zM834 483h3v1h-3zM840 483h3v1h-3zM846 483h3v1h-3zM852 483h3v1h-3zM858 483h3v1h-3zM864 483h3v1h-3zM870 483h3v1h-3zM876 483h3v1h-3zM882 483h3v1h-3zM888 483h3v1h-3zM894 483h3v1h-3zM900 483h3v1h-3zM906 483h3v1h-3zM912 483h3v1h-3zM918 483h3v1h-3zM924 483h3v1h-3zM930 483h3v1h-3zM936 483h3v1h-3zM942 483h3v1h-3zM948 483h3v1h-3zM954 483h3v1h-3zM960 483h3v1h-3zM966 483h3v1h-3zM972 483h3v1h-3zM978 483h3v1h-3zM984 483h3v1h-3zM990 483h3v1h-3zM996 483h3v1h-3zM1002 483h3v1h-3zM1008 483h3v1h-3zM1014 483h3v1h-3zM1020 483h3v1h-3zM1026 483h3v1h-3zM1032 483h3v1h-3zM1038 483h3v1h-3zM1044 483h3v1h-3zM1050 483h3v1h-3zM1056 483h3v1h-3zM1062 483h3v1h-3zM1068 483h3v1h-3zM1074 483h3v1h-3zM1080 483h3v1h-3zM1086 483h3v1h-3zM1092 483h3v1h-3zM1098 483h3v1h-3zM1104 483h3v1h-3zM1110 483h3v1h-3zM1116 483h3v1h-3zM1122 483h3v1h-3zM1128 483h3v1h-3zM1134 483h3v1h-3zM1140 483h3v1h-3zM1146 483h3v1h-3zM1152 483h3v1h-3zM1158 483h3v1h-3zM1164 483h3v1h-3zM1170 483h3v1h-3zM1176 483h3v1h-3zM1182 483h3v1h-3zM1188 483h3v1h-3zM1194 483h3v1h-3zM1200 483h3v1h-3zM1206 483h3v1h-3zM1212 483h3v1h-3zM1218 483h3v1h-3zM1224 483h3v1h-3zM1230 483h3v1h-3z"/>
<path d="M6 528h3v1h-3zM12 528h3v1h-3zM18 528h3v1h-3zM24 528h3v1h-3zM30 528h3v1h-3zM36 528h3v1h-3zM42 528h3v1h-3zM48 528h3v1h-3zM54 528h3v1h-3zM60 528h3v1h-3zM66 528h3v1h-3zM72 528h3v1h-3zM78 528h3v1h-3zM84 528h3v1h-3zM90 528h3v1h-3zM96 528h3v1h-3zM102 528h3v1h-3zM108 528h3v1h-3zM114 528h3v1h-3zM120 528h3v1h-3zM126 528h3v1h-3zM132 528h3v1h-3zM138 528h3v1h-3zM144 528h3v1h-3zM150 528h3v1h-3zM156 528h3v1h-3zM162 528h3v1h-3zM168 528h3v1h-3zM174 528h3v1h-3zM180 528h3v1h-3zM186 528h3v1h-3zM192 528h3v1h-3zM198 528h3v1h-3zM204 528h3v1h-3zM210 528h3v1h-3zM216 528h3v1h-3zM222 528h3v1h-3zM228 528h3v1h-3zM234 528h3v1h-3zM240 528h3v1h-3zM246 528h3v1h-3zM252 528h3v1h-3zM258 528h3v1h-3zM264 528h3v1h-3zM270 528h3v1h-3zM276 528h3v1h-3zM282 528h3v1h-3zM288 528h3v1h-3zM294 528h3v1h-3zM300 528h3v1h-3zM306 528h3v1h-3zM312 528h3v1h-3zM318 528h3v1h-3zM324 528h3v1h-3zM330 528h3v1h-3zM336 528h3v1h-3zM342 528h3v1h-3zM348 528h3v1h-3zM354 528h3v1h-3zM360 528h3v1h-3zM366 528h3v1h-3zM372 528h3v1h-3zM378 528h3v1h-3zM384 528h3v1h-3zM390 528h3v1h-3zM396 528h3v1h-3zM402 528h3v1h-3zM408 528h3v1h-3zM414 528h3v1h-3zM420 528h3v1h-3zM426 528h3v1h-3zM432 528h3v1h-3zM438 528h3v1h-3zM444 528h3v1h-3zM450 528h3v1h-3zM456 528h3v1h-3zM462 528h3v1h-3zM468 528h3v1h-3zM474 528h3v1h-3zM480 528h3v1h-3zM486 528h3v1h-3zM492 528h3v1h-3zM498 528h3v1h-3zM504 528h3v1h-3zM510 528h3v1h-3zM516 528h3v1h-3zM522 528h3v1h-3zM528 528h3v1h-3zM534 528h3v1h-3zM540 528h3v1h-3zM546 528h3v1h-3zM552 528h3v1h-3zM558 528h3v1h-3zM564 528h3v1h-3zM570 528h3v1h-3zM576 528h3v1h-3zM582 528h3v1h-3zM588 528h3v1h-3zM594 528h3v1h-3zM600 528h3v1h-3zM606 528h3v1h-3zM612 528h3v1h-3zM618 528h3v1h-3zM624 528h3v1h-3zM630 528h3v1h-3zM636 528h3v1h-3zM642 528h3v1h-3zM648 528h3v1h-3zM654 528h3v1h-3zM660 528h3v1h-3zM666 528h3v1h-3zM672 528h3v1h-3zM678 528h3v1h-3zM684 528h3v1h-3zM690 528h3v1h-3zM696 528h3v1h-3zM702 528h3v1h-3zM708 528h3v1h-3zM714 528h3v1h-3zM720 528h3v1h-3zM726 528h3v1h-3zM732 528h3v1h-3zM738 528h3v1h-3zM744 528h3v1h-3zM750 528h3v1h-3zM756 528h3v1h-3zM762 528h3v1h-3zM768 528h3v1h-3zM774 528h3v1h-3zM780 528h3v1h-3zM786 528h3v1h-3zM792 528h3v1h-3zM798 528h3v1h-3zM804 528h3v1h-3zM810 528h3v1h-3zM816 528h3v1h-3zM822 528h3v1h-3zM828 528h3v1h-3zM834 528h3v1h-3zM840 528h3v1h-3zM846 528h3v1h-3zM852 528h3v1h-3zM858 528h3v1h-3zM864 528h3v1h-3zM870 528h3v1h-3zM876 528h3v1h-3zM882 528h3v1h-3zM888 528h3v1h-3zM894 528h3v1h-3zM900 528h3v1h-3zM906 528h3v1h-3zM912 528h3v1h-3zM918 528h3v1h-3zM924 528h3v1h-3zM930 528h3v1h-3zM936 528h3v1h-3zM942 528h3v1h-3zM948 528h3v1h-3zM954 528h3v1h-3zM960 528h3v1h-3zM966 528h3v1h-3zM972 528h3v1h-3zM978 528h3v1h-3zM984 528h3v1h-3zM990 528h3v1h-3zM996 528h3v1h-3zM1002 528h3v1h-3zM1008 528h3v1h-3zM1014 528h3v1h-3zM1020 528h3v1h-3zM1026 528h3v1h-3zM1032 528h3v1h-3zM1038 528h3v1h-3zM1044 528h3v1h-3zM1050 528h3v1h-3zM1056 528h3v1h-3zM1062 528h3v1h-3zM1068 528h3v1h-3zM1074 528h3v1h-3zM1080 528h3v1h-3zM1086 528h3v1h-3zM1092 528h3v1h-3zM1098 528h3v1h-3zM1104 528h3v1h-3zM1110 528h3v1h-3zM1116 528h3v1h-3zM1122 528h3v1h-3zM1128 528h3v1h-3zM1134 528h3v1h-3zM1140 528h3v1h-3zM1146 528h3v1h-3zM1152 528h3v1h-3zM1158 528h3v1h-3zM1164 528h3v1h-3zM1170 528h3v1h-3zM1176 528h3v1h-3zM1182 528h3v1h-3zM1188 528h3v1h-3zM1194 528h3v1h-3zM1200 528h3v1h-3zM1206 528h3v1h-3zM1212 528h3v1h-3zM1218 528h3v1h-3zM1224 528h3v1h-3zM1230 528h3v1h-3z"/>
</g>
<path d="M5.5 503v2M6.5 499v4M7.5 496v3M8.5 492v4M9.5 489v3M10.5 486v3M11.5 482v4M12.5 479v3M13.5 477v2M14.5 478v1M15.5 479v1M16.5 480v1M17.5 481v1M18.5 482v2M19.5 484v1M20.5 485v2M21.5 487v1M22.5 487v1M23.5 487v1M24.5 488v1M25.5 487v2M26.5 485v2M27.5 483v2M28.5 481v2M29.5 478v3M30.5 476v2M31.5 474v2M32.5 472v2M33.5 470v2M34.5 470v1M35.5 470v1M36.5 471v1M37.5 471v1M38.5 471v1M39.5 471v1M40.5 471v1M41.5 471v1M42.5 472v1M43.5 473v1M44.5 474v1M45.5 475v2M46.5 477v2M47.5 479v2M48.5 481v2M49.5 483v7M50.5 490v10M51.5 500v11M52.5 511v10M53.5 521v7M54.5 528v2M55.5 530v2M56.5 532v2M57.5 534v2M58.5 536v1M59.5 536v1M60.5 537v1M61.5 538v1M62.5 537v1M63.5 536v1M64.5 535v1M65.5 534v1M66.5 534v1M67.5 533v1M68.5 533v1M69.5 531v2M70.5 529v2M71.5 527v2M72.5 525v2M73.5 523v2M74.5 523v1M75.5 523v1M76.5 522v1M77.5 522v1M78.5 522v1M79.5 522v1M80.5 523v1M81.5 523v2M82.5 525v3M83.5 528v3M84.5 531v3M85.5 534v2M86.5 534v1M87.5 532v2M88.5 531v1M89.5 529v2M90.5 527v2M91.5 524v3M92.5 522v2M93.5 518v4M94.5 514v4M95.5 510v4M96.5 506v4M97.5 501v5M98.5 496v5M99.5 492v4M100.5 487v5M101.5 483v4M102.5 481v2M103.5 478v3M104.5 476v2M105.5 474v2M106.5 475v2M107.5 477v1M108.5 478v2M109.5 480v1M110.5 481v1M111.5 482v1M112.5 483v1M113.5 484v2M114.5 486v3M115.5 489v2M116.5 491v3M117.5 494v2M118.5 494v1M119.5 493v1M120.5 492v1M121.5 491v4M122.5 495v6M123.5 501v6M124.5 507v6M125.5 513v3M126.5 516v2M127.5 518v2M128.5 520v2M129.5 522v2M130.5 524v2M131.5 526v2M132.5 528v2M133.5 529v2M134.5 525v4M135.5 521v4M136.5 517v4M137.5 515v2M138.5 513v2M139.5 512v1M140.5 510v2M141.5 509v1M142.5 507v2M143.5 506v1M144.5 504v2M145.5 503v1M146.5 503v1M147.5 503v1M148.5 504v1M149.5 503v2M150.5 501v2M151.5 499v2M152.5 497v2M153.5 495v2M154.5 496v2M155.5 498v2M156.5 500v2M157.5 502v1M158.5 502v1M159.5 501v1M160.5 501v1M161.5 500v1M162.5 500v1M163.5 499v1M164.5 499v1M165.5 496v3M166.5 492v4M167.5 488v4M168.5 484v4M169.5 480v4M170.5 478v2M171.5 476v2M172.5 474v2M173.5 473v1M174.5 473v1M175.5 473v1M176.5 473v1M177.5 473v1M178.5 474v1M179.5 474v1M180.5 475v1M181.5 476v2M182.5 478v2M183.5 480v2M184.5 482v2M185.5 484v3M186.5 487v3M187.5 490v4M188.5 494v3M189.5 497v3M190.5 500v2M191.5 502v2M192.5 504v2M193.5 505v2M194.5 503v2M195.5 501v2M196.5 499v2M197.5 497v2M198.5 493v4M199.5 489v4M200.5 485v4M201.5 483v2M202.5 482v1M203.5 480v2M204.5 479v1M205.5 478v1M206.5 478v1M207.5 478v1M208.5 478v1M209.5 478v1M210.5 478v1M211.5 478v1M212.5 478v1M213.5 478v1M214.5 477v1M215.5 477v1M216.5 476v1M217.5 475v2M218.5 477v2M219.5 479v2M220.5 481v2M221.5 483v3M222.5 486v5M223.5 491v5M224.5 496v5M225.5 501v5M226.5 506v4M227.5 510v4M228.5 514v4M229.5 518v2M230.5 519v1M231.5 519v1M232.5 518v1M233.5 518v1M234.5 517v1M235.5 515v2M236.5 514v1M237.5 513v2M238.5 515v2M239.5 517v2M240.5 519v2M241.5 521v3M242.5 524v3M243.5 527v2M244.5 529v3M245.5 532v2M246.5 533v1M247.5 534v1M248.5 534v1M249.5 535v1M250.5 534v1M251.5 533v1M252.5 532v1M253.5 531v1M254.5 531v1M255.5 530v1M256.5 530v1M257.5 529v1M258.5 530v1M259.5 531v1M260.5 532v1M261.5 533v1M262.5 532v1M263.5 532v1M264.5 531v1M265.5 528v3M266.5 523v5M267.5 518v5M268.5 513v5M269.5 507v6M270.5 501v6M271.5 495v6M272.5 489v6M273.5 485v4M274.5 482v3M275.5 478v4M276.5 475v3M277.5 473v2M278.5 475v2M279.5 477v2M280.5 479v2M281.5 481v3M282.5 484v3M283.5 487v3M284.5 490v3M285.5 493v4M286.5 497v5M287.5 502v4M288.5 506v5M289.5 511v4M290.5 515v4M291.5 519v3M292.5 522v4M293.5 526v2M294.5 527v1M295.5 528v1M296.5 528v1M297.5 528v2M298.5 524v4M299.5 521v3M300.5 517v4M301.5 513v4M302.5 509v4M303.5 505v4M304.5 501v4M305.5 498v3M306.5 496v2M307.5 493v3M308.5 491v2M309.5 489v2M310.5 489v1M311.5 489v1M312.5 488v1M313.5 488v1M314.5 487v1M315.5 485v2M316.5 484v1M317.5 483v1M318.5 483v1M319.5 483v1M320.5 482v1M321.5 482v1M322.5 482v1M323.5 482v1M324.5 481v1M325.5 481v1M326.5 482v2M327.5 484v1M328.5 485v2M329.5 487v2M330.5 489v2M331.5 491v3M332.5 494v2M333.5 496v3M334.5 499v2M335.5 501v3M336.5 504v2M337.5 506v3M338.5 509v3M339.5 512v3M340.5 515v3M341.5 518v3M342.5 521v2M343.5 523v3M344.5 526v2M345.5 528v2M346.5 529v1M347.5 530v1M348.5 530v1M349.5 531v1M350.5 531v1M351.5 531v1M352.5 532v1M353.5 532v1M354.5 531v1M355.5 530v1M356.5 529v1M357.5 528v1M358.5 526v2M359.5 524v2M360.5 522v2M361.5 521v1M362.5 522v1M363.5 523v1M364.5 524v1M365.5 525v1M366.5 525v1M367.5 525v1M368.5 525v1M369.5 525v1M370.5 525v1M371.5 524v1M372.5 524v1M373.5 522v2M374.5 519v3M375.5 515v4M376.5 512v3M377.5 508v4M378.5 504v4M379.5 500v4M380.5 496v4M381.5 493v3M382.5 490v3M383.5 487v3M384.5 484v3M385.5 482v2M386.5 481v1M387.5 479v2M388.5 478v1M389.5 477v1M390.5 477v1M391.5 477v1M392.5 476v1M393.5 476v1M394.5 476v1M395.5 476v1M396.5 476v1M397.5 476v1M398.5 476v1M399.5 476v1M400.5 475v1M401.5 475v1M402.5 475v1M403.5 475v1M404.5 474v1M405.5 474v1M406.5 474v1M407.5 474v1M408.5 475v1M409.5 475v1M410.5 475v1M411.5 476v1M412.5 476v1M413.5 477v5M414.5 482v10M415.5 492v9M416.5 501v10M417.5 511v6M418.5 517v4M419.5 521v4M420.5 525v4M421.5 529v2M422.5 530v1M423.5 529v1M424.5 529v1M425.5 528v1M426.5 526v2M427.5 524v2M428.5 522v2M429.5 521v1M430.5 520v1M431.5 518v2M432.5 517v1M433.5 516v1M434.5 515v1M435.5 513v2M436.5 512v1M437.5 510v2M438.5 507v3M439.5 505v2M440.5 502v3M441.5 498v4M442.5 494v4M443.5 490v4M444.5 486v4M445.5 484v2M446.5 486v3M447.5 489v2M448.5 491v3M449.5 494v2M450.5 495v1M451.5 496v1M452.5 496v1M453.5 497v1M454.5 498v1M455.5 498v1M456.5 499v1M457.5 500v1M458.5 498v2M459.5 497v1M460.5 495v2M461.5 494v2M462.5 496v2M463.5 498v2M464.5 500v2M465.5 502v2M466.5 504v1M467.5 505v2M468.5 507v1M469.5 508v1M470.5 508v1M471.5 508v1M472.5 508v1M473.5 507v2M474.5 504v3M475.5 502v2M476.5 499v3M477.5 496v3M478.5 492v4M479.5 488v4M480.5 484v4M481.5 482v2M482.5 480v2M483.5 479v1M484.5 477v2M485.5 476v3M486.5 479v4M487.5 483v5M488.5 488v4M489.5 492v5M490.5 497v6M491.5 503v6M492.5 509v6M493.5 515v5M494.5 520v4M495.5 524v4M496.5 528v4M497.5 532v3M498.5 534v1M499.5 534v1M500.5 535v1M501.5 535v1M502.5 535v1M503.5 535v1M504.5 535v1M505.5 535v1M506.5 534v1M507.5 533v1M508.5 532v1M509.5 531v1M510.5 530v1M511.5 528v2M512.5 527v1M513.5 526v1M514.5 524v2M515.5 522v2M516.5 520v2M517.5 519v1M518.5 519v1M519.5 518v1M520.5 518v1M521.5 516v2M522.5 514v2M523.5 511v3M524.5 509v2M525.5 506v3M526.5 504v2M527.5 501v3M528.5 499v2M529.5 497v2M530.5 497v1M531.5 497v1M532.5 496v1M533.5 496v1M534.5 497v2M535.5 499v2M536.5 501v2M537.5 503v2M538.5 505v3M539.5 508v3M540.5 511v3M541.5 514v2M542.5 512v2M543.5 510v2M544.5 508v2M545.5 507v1M546.5 507v1M547.5 508v1M548.5 508v1M549.5 509v1M550.5 507v2M551.5 506v1M552.5 504v2M553.5 503v1M554.5 503v1M555.5 503v1M556.5 504v1M557.5 503v2M558.5 500v3M559.5 497v3M560.5 494v3M561.5 492v2M562.5 490v2M563.5 489v1M564.5 487v2M565.5 486v1M566.5 485v1M567.5 483v2M568.5 482v1M569.5 481v1M570.5 479v2M571.5 477v2M572.5 475v2M573.5 474v1M574.5 474v1M575.5 474v1M576.5 474v1M577.5 474v1M578.5 475v2M579.5 477v2M580.5 479v2M581.5 481v1M582.5 482v1M583.5 483v2M584.5 485v1M585.5 486v1M586.5 487v2M587.5 489v1M588.5 490v2M589.5 492v1M590.5 491v1M591.5 491v1M592.5 490v1M593.5 489v1M594.5 489v1M595.5 489v1M596.5 490v1M597.5 490v1M598.5 490v1M599.5 490v1M600.5 491v1M601.5 491v2M602.5 493v3M603.5 496v3M604.5 499v3M605.5 502v3M606.5 505v4M607.5 509v3M608.5 512v4M609.5 516v3M610.5 519v3M611.5 522v2M612.5 524v3M613.5 527v2M614.5 529v1M615.5 530v1M616.5 531v1M617.5 532v1M618.5 530v2M619.5 529v1M620.5 527v2M621.5 525v2M622.5 522v3M623.5 520v2M624.5 517v3M625.5 513v4M626.5 509v4M627.5 504v5M628.5 500v4M629.5 496v4M630.5 493v3M631.5 489v4M632.5 486v3M633.5 484v2M634.5 484v1M635.5 485v1M636.5 485v1M637.5 486v2M638.5 488v4M639.5 492v4M640.5 496v4M641.5 500v4M642.5 504v5M643.5 509v5M644.5 514v5M645.5 519v4M646.5 523v2M647.5 525v3M648.5 528v2M649.5 530v2M650.5 532v1M651.5 533v2M652.5 535v1M653.5 536v1M654.5 535v1M655.5 534v1M656.5 533v1M657.5 532v1M658.5 530v2M659.5 528v2M660.5 526v2M661.5 523v3M662.5 518v5M663.5 514v4M664.5 509v5M665.5 505v4M666.5 502v3M667.5 498v4M668.5 495v3M669.5 493v2M670.5 493v1M671.5 493v1M672.5 492v1M673.5 492v2M674.5 494v2M675.5 496v3M676.5 499v2M677.5 501v3M678.5 504v3M679.5 507v3M680.5 510v3M681.5 513v3M682.5 516v2M683.5 518v3M684.5 521v2M685.5 523v2M686.5 525v2M687.5 527v1M688.5 528v2M689.5 530v1M690.5 531v2M691.5 533v1M692.5 534v2M693.5 536v1M694.5 537v1M695.5 538v1M696.5 539v1M697.5 539v2M698.5 537v2M699.5 535v2M700.5 533v2M701.5 530v3M702.5 526v4M703.5 521v5M704.5 517v4M705.5 511v6M706.5 505v6M707.5 499v6M708.5 493v6M709.5 489v4M710.5 486v3M711.5 482v4M712.5 479v3M713.5 477v2M714.5 477v1M715.5 477v1M716.5 476v1M717.5 476v1M718.5 476v1M719.5 477v1M720.5 477v1M721.5 478v1M722.5 479v2M723.5 481v1M724.5 482v2M725.5 484v2M726.5 486v3M727.5 489v2M728.5 491v3M729.5 494v3M730.5 497v4M731.5 501v3M732.5 504v4M733.5 508v2M734.5 509v1M735.5 508v1M736.5 508v1M737.5 506v2M738.5 503v3M739.5 500v3M740.5 497v3M741.5 494v3M742.5 491v3M743.5 488v3M744.5 485v3M745.5 483v3M746.5 486v4M747.5 490v4M748.5 494v4M749.5 498v3M750.5 501v4M751.5 505v4M752.5 509v4M753.5 513v3M754.5 516v4M755.5 520v4M756.5 524v4M757.5 528v2M758.5 528v1M759.5 526v2M760.5 525v1M761.5 524v1M762.5 524v1M763.5 524v1M764.5 523v1M765.5 521v3M766.5 517v4M767.5 512v5M768.5 508v4M769.5 505v3M770.5 503v2M771.5 501v2M772.5 499v2M773.5 498v1M774.5 496v2M775.5 494v2M776.5 492v2M777.5 491v2M778.5 493v4M779.5 497v3M780.5 500v4M781.5 504v2M782.5 506v2M783.5 508v1M784.5 509v2M785.5 511v1M786.5 512v2M787.5 514v1M788.5 515v2M789.5 517v1M790.5 518v2M791.5 520v1M792.5 521v2M793.5 523v1M794.5 524v2M795.5 526v1M796.5 527v2M797.5 529v1M798.5 530v1M799.5 531v2M800.5 533v1M801.5 534v1M802.5 533v1M803.5 532v1M804.5 531v1M805.5 530v1M806.5 530v1M807.5 529v1M808.5 529v1M809.5 528v1M810.5 528v1M811.5 527v1M812.5 527v1M813.5 526v1M814.5 526v1M815.5 526v1M816.5 525v1M817.5 525v1M818.5 526v1M819.5 527v2M820.5 529v1M821.5 530v1M822.5 531v1M823.5 531v1M824.5 532v1M825.5 533v1M826.5 533v1M827.5 534v1M828.5 534v1M829.5 535v1M830.5 534v1M831.5 533v1M832.5 532v1M833.5 531v1M834.5 529v2M835.5 528v1M836.5 526v2M837.5 525v1M838.5 525v1M839.5 524v1M840.5 524v1M841.5 523v1M842.5 523v1M843.5 523v1M844.5 524v1M845.5 524v1M846.5 525v1M847.5 526v1M848.5 527v1M849.5 524v5M850.5 516v8M851.5 507v9M852.5 499v8M853.5 493v6M854.5 490v3M855.5 486v4M856.5 483v3M857.5 480v3M858.5 478v2M859.5 476v2M860.5 474v2M861.5 472v2M862.5 472v1M863.5 473v1M864.5 473v1M865.5 474v1M866.5 474v1M867.5 474v1M868.5 474v1M869.5 474v1M870.5 475v1M871.5 476v1M872.5 477v1M873.5 478v1M874.5 478v1M875.5 479v1M876.5 479v1M877.5 480v1M878.5 481v1M879.5 482v2M880.5 484v1M881.5 485v2M882.5 487v2M883.5 489v2M884.5 491v2M885.5 493v2M886.5 494v1M887.5 494v1M888.5 494v1M889.5 494v1M890.5 495v2M891.5 497v2M892.5 499v2M893.5 500v2M894.5 498v2M895.5 495v3M896.5 493v2M897.5 491v2M898.5 492v1M899.5 492v1M900.5 493v1M901.5 494v1M902.5 492v2M903.5 490v2M904.5 488v2M905.5 487v1M906.5 486v1M907.5 486v1M908.5 485v1M909.5 484v2M910.5 486v2M911.5 488v2M912.5 490v2M913.5 492v4M914.5 496v6M915.5 502v5M916.5 507v6M917.5 513v5M918.5 518v5M919.5 523v4M920.5 527v5M921.5 532v3M922.5 534v1M923.5 534v1M924.5 535v1M925.5 535v1M926.5 535v1M927.5 536v1M928.5 536v1M929.5 536v2M930.5 534v2M931.5 532v2M932.5 530v2M933.5 529v1M934.5 529v1M935.5 528v1M936.5 528v1M937.5 526v2M938.5 523v3M939.5 520v3M940.5 517v3M941.5 515v2M942.5 517v2M943.5 519v2M944.5 521v2M945.5 523v2M946.5 524v1M947.5 523v1M948.5 523v1M949.5 522v1M950.5 520v2M951.5 518v2M952.5 516v2M953.5 513v3M954.5 509v4M955.5 505v4M956.5 501v4M957.5 496v5M958.5 492v4M959.5 488v4M960.5 484v4M961.5 481v3M962.5 479v2M963.5 477v2M964.5 475v2M965.5 474v1M966.5 474v1M967.5 473v1M968.5 473v1M969.5 472v1M970.5 472v1M971.5 472v1M972.5 473v1M973.5 473v1M974.5 473v1M975.5 474v1M976.5 474v1M977.5 475v1M978.5 476v1M979.5 476v1M980.5 477v1M981.5 478v1M982.5 479v1M983.5 480v2M984.5 482v1M985.5 483v1M986.5 482v1M987.5 481v1M988.5 480v1M989.5 479v1M990.5 478v1M991.5 478v1M992.5 477v1M993.5 476v1M994.5 476v1M995.5 476v1M996.5 475v1M997.5 475v1M998.5 475v1M999.5 475v1M1000.5 475v1M1001.5 475v1M1002.5 476v1M1003.5 476v1M1004.5 477v1M1005.5 478v1M1006.5 479v1M1007.5 479v1M1008.5 480v1M1009.5 481v2M1010.5 483v2M1011.5 485v2M1012.5 487v2M1013.5 489v3M1014.5 492v4M1015.5 496v5M1016.5 501v4M1017.5 505v4M1018.5 509v4M1019.5 513v4M1020.5 517v4M1021.5 521v3M1022.5 524v2M1023.5 526v3M1024.5 529v2M1025.5 531v2M1026.5 533v1M1027.5 534v2M1028.5 536v1M1029.5 537v1M1030.5 537v1M1031.5 537v1M1032.5 538v1M1033.5 538v1M1034.5 538v1M1035.5 538v1M1036.5 538v1M1037.5 538v1M1038.5 538v1M1039.5 537v1M1040.5 537v1M1041.5 536v1M1042.5 536v1M1043.5 535v1M1044.5 535v1M1045.5 533v2M1046.5 531v2M1047.5 529v2M1048.5 527v2M1049.5 526v1M1050.5 525v1M1051.5 525v1M1052.5 524v1M1053.5 523v1M1054.5 524v1M1055.5 524v1M1056.5 525v1M1057.5 526v2M1058.5 528v2M1059.5 530v2M1060.5 532v2M1061.5 534v1M1062.5 534v1M1063.5 534v1M1064.5 534v1M1065.5 534v1M1066.5 534v1M1067.5 534v1M1068.5 533v1M1069.5 533v1M1070.5 531v2M1071.5 530v1M1072.5 528v2M1073.5 526v2M1074.5 524v2M1075.5 522v2M1076.5 520v2" stroke="#6495ed" stroke-width="1" fill="none" shape-rendering="crispEdges"/>
<path d="M5.5 517v2M6.5 514v3M7.5 512v2M8.5 509v3M9.5 506v3M10.5 502v4M11.5 498v4M12.5 494v4M13.5 491v3M14.5 489v2M15.5 487v2M16.5 485v2M17.5 483v2M18.5 483v1M19.5 483v1M20.5 482v1M21.5 482v1M22.5 483v1M23.5 483v1M24.5 484v1M25.5 485v1M26.5 485v1M27.5 485v1M28.5 485v1M29.5 485v1M30.5 484v1M31.5 482v2M32.5 481v1M33.5 480v1M34.5 478v2M35.5 476v2M36.5 474v2M37.5 473v1M38.5 473v1M39.5 472v1M40.5 472v1M41.5 471v1M42.5 471v1M43.5 471v1M44.5 472v1M45.5 472v1M46.5 473v1M47.5 474v2M48.5 476v1M49.5 477v3M50.5 480v4M51.5 484v5M52.5 489v4M53.5 493v5M54.5 498v5M55.5 503v5M56.5 508v5M57.5 513v5M58.5 518v4M59.5 522v5M60.5 527v4M61.5 531v3M62.5 534v1M63.5 534v1M64.5 535v1M65.5 536v1M66.5 536v1M67.5 536v1M68.5 535v1M69.5 535v1M70.5 534v1M71.5 532v2M72.5 531v1M73.5 530v1M74.5 529v1M75.5 528v1M76.5 527v1M77.5 526v1M78.5 525v1M79.5 525v1M80.5 524v1M81.5 523v1M82.5 524v1M83.5 525v1M84.5 526v1M85.5 527v1M86.5 527v1M87.5 528v1M88.5 528v1M89.5 529v1M90.5 529v1M91.5 529v1M92.5 529v1M93.5 528v2M94.5 525v3M95.5 523v2M96.5 520v3M97.5 516v4M98.5 512v4M99.5 508v4M100.5 504v4M101.5 501v3M102.5 497v4M103.5 493v4M104.5 489v4M105.5 487v2M106.5 485v2M107.5 483v2M108.5 481v2M109.5 480v1M110.5 480v1M111.5 480v1M112.5 480v1M113.5 480v1M114.5 481v2M115.5 483v2M116.5 485v2M117.5 487v1M118.5 488v1M119.5 488v1M120.5 489v1M121.5 490v2M122.5 492v2M123.5 494v3M124.5 497v2M125.5 499v3M126.5 502v2M127.5 504v2M128.5 506v2M129.5 508v3M130.5 511v3M131.5 514v4M132.5 518v3M133.5 521v2M134.5 522v1M135.5 522v1M136.5 522v1M137.5 522v1M138.5 521v1M139.5 520v1M140.5 519v1M141.5 517v2M142.5 515v2M143.5 513v2M144.5 511v2M145.5 509v2M146.5 508v1M147.5 507v1M148.5 506v1M149.5 505v1M150.5 504v1M151.5 503v1M152.5 502v1M153.5 501v1M154.5 501v1M155.5 501v1M156.5 500v1M157.5 500v1M158.5 500v1M159.5 500v1M160.5 499v1M161.5 499v1M162.5 499v1M163.5 499v1M164.5 500v1M165.5 500v1M166.5 498v2M167.5 496v2M168.5 494v2M169.5 492v2M170.5 490v2M171.5 488v2M172.5 486v2M173.5 483v3M174.5 481v2M175.5 479v2M176.5 477v2M177.5 475v2M178.5 475v1M179.5 475v1M180.5 474v1M181.5 474v1M182.5 475v1M183.5 476v1M184.5 477v1M185.5 478v2M186.5 480v2M187.5 482v2M188.5 484v2M189.5 486v3M190.5 489v2M191.5 491v2M192.5 493v2M193.5 495v2M194.5 497v1M195.5 498v2M196.5 500v1M197.5 501v1M198.5 500v1M199.5 498v2M200.5 497v1M201.5 495v2M202.5 493v2M203.5 491v2M204.5 489v2M205.5 487v2M206.5 485v2M207.5 483v2M208.5 481v2M209.5 480v1M210.5 480v1M211.5 479v1M212.5 479v1M213.5 478v1M214.5 478v1M215.5 478v1M216.5 477v1M217.5 477v1M218.5 477v1M219.5 478v1M220.5 478v1M221.5 479v2M222.5 481v2M223.5 483v2M224.5 485v2M225.5 487v2M226.5 489v4M227.5 493v4M228.5 497v4M229.5 501v3M230.5 504v3M231.5 507v2M232.5 509v3M233.5 512v2M234.5 514v1M235.5 515v1M236.5 516v1M237.5 517v1M238.5 517v1M239.5 517v1M240.5 517v1M241.5 517v1M242.5 518v2M243.5 520v1M244.5 521v2M245.5 523v1M246.5 524v2M247.5 526v2M248.5 528v2M249.5 530v1M250.5 531v1M251.5 531v1M252.5 532v1M253.5 533v1M254.5 533v1M255.5 532v1M256.5 532v1M257.5 531v1M258.5 531v1M259.5 531v1M260.5 531v1M261.5 531v1M262.5 531v1M263.5 531v1M264.5 531v1M265.5 531v1M266.5 529v2M267.5 528v1M268.5 526v2M269.5 523v3M270.5 519v4M271.5 515v4M272.5 511v4M273.5 507v4M274.5 502v5M275.5 498v4M276.5 493v5M277.5 489v4M278.5 487v2M279.5 484v3M280.5 482v2M281.5 480v2M282.5 481v1M283.5 481v1M284.5 482v1M285.5 483v2M286.5 485v3M287.5 488v4M288.5 492v3M289.5 495v3M290.5 498v4M291.5 502v4M292.5 506v4M293.5 510v3M294.5 513v3M295.5 516v3M296.5 519v3M297.5 522v2M298.5 523v1M299.5 523v1M300.5 524v1M301.5 523v2M302.5 521v2M303.5 519v2M304.5 517v2M305.5 514v3M306.5 510v4M307.5 507v3M308.5 503v4M309.5 500v3M310.5 498v2M311.5 496v2M312.5 494v2M313.5 492v2M314.5 490v2M315.5 489v1M316.5 487v2M317.5 486v1M318.5 486v1M319.5 485v1M320.5 485v1M321.5 484v1M322.5 484v1M323.5 483v1M324.5 483v1M325.5 482v1M326.5 482v1M327.5 482v1M328.5 483v1M329.5 483v1M330.5 484v1M331.5 485v2M332.5 487v1M333.5 488v2M334.5 490v2M335.5 492v2M336.5 494v2M337.5 496v3M338.5 499v2M339.5 501v3M340.5 504v2M341.5 506v3M342.5 509v3M343.5 512v2M344.5 514v3M345.5 517v3M346.5 520v2M347.5 522v2M348.5 524v2M349.5 526v1M350.5 527v1M351.5 528v2M352.5 530v1M353.5 531v1M354.5 531v1M355.5 531v1M356.5 531v1M357.5 531v1M358.5 530v1M359.5 529v1M360.5 528v1M361.5 527v1M362.5 527v1M363.5 526v1M364.5 526v1M365.5 525v1M366.5 525v1M367.5 525v1M368.5 524v1M369.5 524v1M370.5 524v1M371.5 524v1M372.5 524v1M373.5 524v1M374.5 523v1M375.5 521v2M376.5 520v1M377.5 518v2M378.5 516v2M379.5 513v3M380.5 511v2M381.5 508v3M382.5 504v4M383.5 501v3M384.5 497v4M385.5 494v3M386.5 491v3M387.5 489v2M388.5 486v3M389.5 484v2M390.5 482v2M391.5 481v1M392.5 479v2M393.5 478v1M394.5 478v1M395.5 477v1M396.5 477v1M397.5 476v1M398.5 476v1M399.5 476v1M400.5 476v1M401.5 476v1M402.5 476v1M403.5 476v1M404.5 475v1M405.5 475v1M406.5 475v1M407.5 475v1M408.5 475v1M409.5 475v1M410.5 475v1M411.5 475v1M412.5 475v1M413.5 475v2M414.5 477v4M415.5 481v3M416.5 484v4M417.5 488v4M418.5 492v5M419.5 497v4M420.5 501v5M421.5 506v5M422.5 511v4M423.5 515v4M424.5 519v4M425.5 523v3M426.5 525v1M427.5 526v1M428.5 526v1M429.5 527v1M430.5 526v1M431.5 524v2M432.5 523v1M433.5 522v1M434.5 520v2M435.5 519v1M436.5 517v2M437.5 516v1M438.5 514v2M439.5 512v2M440.5 510v2M441.5 508v2M442.5 505v3M443.5 503v2M444.5 500v3M445.5 498v2M446.5 497v1M447.5 495v2M448.5 494v1M449.5 493v1M450.5 493v1M451.5 493v1M452.5 492v1M453.5 492v1M454.5 493v1M455.5 494v2M456.5 496v1M457.5 497v1M458.5 497v1M459.5 497v1M460.5 497v1M461.5 497v1M462.5 497v1M463.5 498v1M464.5 498v1M465.5 499v1M466.5 500v1M467.5 500v1M468.5 501v1M469.5 502v1M470.5 503v1M471.5 504v1M472.5 505v1M473.5 506v1M474.5 506v1M475.5 505v1M476.5 505v1M477.5 503v2M478.5 501v2M479.5 499v2M480.5 497v2M481.5 495v2M482.5 492v3M483.5 490v2M484.5 487v3M485.5 485v2M486.5 485v1M487.5 485v1M488.5 484v1M489.5 484v2M490.5 486v3M491.5 489v2M492.5 491v3M493.5 494v4M494.5 498v5M495.5 503v5M496.5 508v5M497.5 513v4M498.5 517v4M499.5 521v3M500.5 524v4M501.5 528v2M502.5 530v2M503.5 532v1M504.5 533v2M505.5 535v1M506.5 535v1M507.5 535v1M508.5 534v1M509.5 534v1M510.5 533v1M511.5 533v1M512.5 532v1M513.5 531v1M514.5 529v2M515.5 528v1M516.5 526v2M517.5 525v1M518.5 524v1M519.5 523v1M520.5 522v1M521.5 521v1M522.5 519v2M523.5 517v2M524.5 515v2M525.5 514v1M526.5 512v2M527.5 510v2M528.5 508v2M529.5 507v1M530.5 505v2M531.5 503v2M532.5 501v2M533.5 500v1M534.5 500v1M535.5 500v1M536.5 499v1M537.5 499v1M538.5 500v2M539.5 502v1M540.5 503v2M541.5 505v1M542.5 506v1M543.5 506v1M544.5 507v1M545.5 508v1M546.5 508v1M547.5 509v1M548.5 509v1M549.5 510v1M550.5 509v1M551.5 508v1M552.5 507v1M553.5 506v1M554.5 506v1M555.5 506v1M556.5 505v1M557.5 505v1M558.5 503v2M559.5 502v1M560.5 500v2M561.5 499v1M562.5 498v1M563.5 496v2M564.5 495v1M565.5 493v2M566.5 491v2M567.5 489v2M568.5 487v2M569.5 486v1M570.5 485v1M571.5 483v2M572.5 482v1M573.5 481v1M574.5 480v1M575.5 479v1M576.5 478v1M577.5 477v1M578.5 477v1M579.5 477v1M580.5 476v1M581.5 476v1M582.5 477v1M583.5 478v1M584.5 479v1M585.5 480v1M586.5 481v2M587.5 483v1M588.5 484v2M589.5 486v1M590.5 487v1M591.5 487v1M592.5 488v1M593.5 489v1M594.5 489v1M595.5 489v1M596.5 490v1M597.5 490v1M598.5 490v1M599.5 490v1M600.5 490v1M601.5 490v1M602.5 491v1M603.5 492v2M604.5 494v1M605.5 495v2M606.5 497v2M607.5 499v2M608.5 501v2M609.5 503v3M610.5 506v3M611.5 509v3M612.5 512v3M613.5 515v3M614.5 518v2M615.5 520v3M616.5 523v2M617.5 525v2M618.5 527v1M619.5 527v1M620.5 528v1M621.5 529v1M622.5 528v1M623.5 526v2M624.5 525v1M625.5 523v2M626.5 520v3M627.5 518v2M628.5 515v3M629.5 512v3M630.5 508v4M631.5 505v3M632.5 501v4M633.5 498v3M634.5 496v2M635.5 493v3M636.5 491v2M637.5 489v2M638.5 489v1M639.5 489v1M640.5 490v1M641.5 490v2M642.5 492v3M643.5 495v4M644.5 499v3M645.5 502v3M646.5 505v4M647.5 509v4M648.5 513v4M649.5 517v3M650.5 520v3M651.5 523v2M652.5 525v3M653.5 528v2M654.5 530v1M655.5 531v1M656.5 532v1M657.5 533v1M658.5 533v1M659.5 532v1M660.5 532v1M661.5 530v2M662.5 528v2M663.5 525v3M664.5 523v2M665.5 520v3M666.5 517v3M667.5 513v4M668.5 510v3M669.5 507v3M670.5 504v3M671.5 502v2M672.5 499v3M673.5 497v2M674.5 497v1M675.5 497v1M676.5 496v1M677.5 496v1M678.5 497v2M679.5 499v2M680.5 501v2M681.5 503v2M682.5 505v2M683.5 507v3M684.5 510v2M685.5 512v3M686.5 515v2M687.5 517v2M688.5 519v2M689.5 521v3M690.5 524v2M691.5 526v2M692.5 528v2M693.5 530v1M694.5 531v1M695.5 532v2M696.5 534v1M697.5 535v1M698.5 535v1M699.5 535v1M700.5 536v1M701.5 535v2M702.5 533v2M703.5 531v2M704.5 529v2M705.5 526v3M706.5 522v4M707.5 518v4M708.5 514v4M709.5 510v4M710.5 505v5M711.5 501v4M712.5 496v5M713.5 492v4M714.5 489v3M715.5 486v3M716.5 483v3M717.5 481v2M718.5 480v1M719.5 479v1M720.5 478v1M721.5 477v1M722.5 478v1M723.5 478v1M724.5 479v1M725.5 480v1M726.5 481v2M727.5 483v1M728.5 484v2M729.5 486v2M730.5 488v2M731.5 490v3M732.5 493v2M733.5 495v3M734.5 498v2M735.5 500v2M736.5 502v2M737.5 504v1M738.5 504v1M739.5 504v1M740.5 504v1M741.5 503v2M742.5 501v2M743.5 499v2M744.5 497v2M745.5 495v2M746.5 495v1M747.5 494v1M748.5 494v1M749.5 493v1M750.5 494v2M751.5 496v1M752.5 497v2M753.5 499v2M754.5 501v4M755.5 505v4M756.5 509v4M757.5 513v3M758.5 516v2M759.5 518v2M760.5 520v2M761.5 522v1M762.5 523v1M763.5 523v1M764.5 524v1M765.5 524v2M766.5 522v2M767.5 520v2M768.5 518v2M769.5 516v2M770.5 514v2M771.5 512v2M772.5 510v2M773.5 507v3M774.5 505v2M775.5 502v3M776.5 500v2M777.5 498v2M778.5 498v1M779.5 498v1M780.5 498v1M781.5 498v1M782.5 499v1M783.5 500v2M784.5 502v1M785.5 503v2M786.5 505v2M787.5 507v2M788.5 509v2M789.5 511v1M790.5 512v2M791.5 514v1M792.5 515v2M793.5 517v1M794.5 518v2M795.5 520v1M796.5 521v2M797.5 523v1M798.5 524v2M799.5 526v1M800.5 527v2M801.5 529v1M802.5 529v1M803.5 530v1M804.5 530v1M805.5 531v1M806.5 531v1M807.5 531v1M808.5 531v1M809.5 531v1M810.5 530v1M811.5 530v1M812.5 529v1M813.5 528v1M814.5 528v1M815.5 527v1M816.5 527v1M817.5 526v1M818.5 526v1M819.5 526v1M820.5 527v1M821.5 527v1M822.5 527v1M823.5 528v1M824.5 528v1M825.5 529v1M826.5 530v1M827.5 531v1M828.5 532v1M829.5 533v1M830.5 533v1M831.5 533v1M832.5 533v1M833.5 533v1M834.5 532v1M835.5 532v1M836.5 531v1M837.5 530v1M838.5 529v1M839.5 528v1M840.5 527v1M841.5 526v1M842.5 526v1M843.5 525v1M844.5 525v1M845.5 524v1M846.5 524v1M847.5 524v1M848.5 525v1M849.5 524v2M850.5 522v2M851.5 519v3M852.5 517v2M853.5 514v3M854.5 510v4M855.5 507v3M856.5 503v4M857.5 499v4M858.5 494v5M859.5 490v4M860.5 485v5M861.5 482v3M862.5 480v2M863.5 479v1M864.5 477v2M865.5 476v1M866.5 475v1M867.5 475v1M868.5 474v1M869.5 473v1M870.5 473v1M871.5 474v1M872.5 474v1M873.5 475v1M874.5 475v1M875.5 476v1M876.5 476v1M877.5 477v1M878.5 478v1M879.5 479v1M880.5 480v1M881.5 481v1M882.5 482v2M883.5 484v1M884.5 485v2M885.5 487v1M886.5 488v1M887.5 489v1M888.5 490v1M889.5 491v1M890.5 492v1M891.5 493v2M892.5 495v1M893.5 496v1M894.5 496v1M895.5 496v1M896.5 495v1M897.5 495v1M898.5 495v1M899.5 495v1M900.5 495v1M901.5 495v1M902.5 494v1M903.5 492v2M904.5 491v1M905.5 490v1M906.5 490v1M907.5 489v1M908.5 489v1M909.5 488v1M910.5 488v1M911.5 488v1M912.5 488v1M913.5 488v2M914.5 490v2M915.5 492v2M916.5 494v2M917.5 496v4M918.5 500v4M919.5 504v4M920.5 508v4M921.5 512v4M922.5 516v4M923.5 520v3M924.5 523v4M925.5 527v2M926.5 529v2M927.5 531v2M928.5 533v2M929.5 535v1M930.5 535v1M931.5 535v1M932.5 534v1M933.5 534v1M934.5 533v1M935.5 533v1M936.5 532v1M937.5 531v1M938.5 529v2M939.5 527v2M940.5 525v2M941.5 524v1M942.5 524v1M943.5 523v1M944.5 523v1M945.5 522v1M946.5 522v1M947.5 521v1M948.5 521v1M949.5 520v1M950.5 520v1M951.5 520v1M952.5 520v1M953.5 519v2M954.5 517v2M955.5 515v2M956.5 513v2M957.5 511v2M958.5 507v4M959.5 504v3M960.5 500v4M961.5 497v3M962.5 493v4M963.5 490v3M964.5 486v4M965.5 483v3M966.5 481v2M967.5 479v2M968.5 477v2M969.5 476v1M970.5 475v1M971.5 475v1M972.5 474v1M973.5 473v1M974.5 473v1M975.5 473v1M976.5 473v1M977.5 473v1M978.5 473v1M979.5 474v1M980.5 474v1M981.5 475v1M982.5 476v1M983.5 477v1M984.5 478v1M985.5 479v1M986.5 479v1M987.5 479v1M988.5 480v1M989.5 480v1M990.5 480v1M991.5 480v1M992.5 479v1M993.5 479v1M994.5 479v1M995.5 478v1M996.5 478v1M997.5 477v1M998.5 477v1M999.5 476v1M1000.5 476v1M1001.5 475v1M1002.5 475v1M1003.5 475v1M1004.5 476v1M1005.5 476v1M1006.5 476v1M1007.5 477v1M1008.5 477v1M1009.5 478v1M1010.5 479v1M1011.5 480v1M1012.5 481v1M1013.5 482v2M1014.5 484v2M1015.5 486v3M1016.5 489v2M1017.5 491v3M1018.5 494v4M1019.5 498v3M1020.5 501v4M1021.5 505v3M1022.5 508v4M1023.5 512v4M1024.5 516v4M1025.5 520v3M1026.5 523v2M1027.5 525v2M1028.5 527v2M1029.5 529v2M1030.5 531v2M1031.5 533v1M1032.5 534v2M1033.5 536v1M1034.5 536v1M1035.5 536v1M1036.5 537v1M1037.5 537v1M1038.5 537v1M1039.5 537v1M1040.5 537v1M1041.5 537v1M1042.5 537v1M1043.5 537v1M1044.5 536v1M1045.5 536v1M1046.5 535v1M1047.5 534v1M1048.5 533v1M1049.5 532v1M1050.5 531v1M1051.5 530v1M1052.5 529v1M1053.5 528v1M1054.5 527v1M1055.5 527v1M1056.5 526v1M1057.5 525v1M1058.5 526v1M1059.5 526v1M1060.5 527v1M1061.5 528v1M1062.5 529v1M1063.5 530v1M1064.5 531v1M1065.5 532v1M1066.5 532v1M1067.5 533v1M1068.5 533v1M1069.5 534v1M1070.5 534v1M1071.5 533v1M1072.5 533v1M1073.5 532v1M1074.5 531v1M1075.5 529v2M1076.5 528v1" stroke="#ff0000" stroke-width="1" fill="none" shape-rendering="crispEdges"/>
<defs><linearGradient id="wg" x1="0" y1="0" x2="0" y2="1"><stop offset="0" stop-color="#ececec"/><stop offset="1" stop-color="#d2d2d2"/></linearGradient>
<linearGradient id="wo" x1="0" y1="0" x2="0" y2="1"><stop offset="0.2" stop-color="#fddcc6"/><stop offset="0.9" stop-color="#fccfb3"/></linearGradient>
<filter id="wb" x="-5%" y="-20%" width="110%" height="140%"><feGaussianBlur stdDeviation="0.5"/></filter></defs>
<g id="wm" filter="url(#wb)">
<text y="359.5" font-size="42.7" style="font-family:'DejaVu Sans','Liberation Sans',sans-serif" fill="url(#wo)" stroke="url(#wo)" stroke-width="1.8" stroke-linejoin="round"><tspan x="48.31" textLength="28.99" lengthAdjust="spacingAndGlyphs">e</tspan><tspan x="76.20" textLength="28.96" lengthAdjust="spacingAndGlyphs">c</tspan><tspan x="102.42" textLength="30.97" lengthAdjust="spacingAndGlyphs">o</tspan><tspan x="132.17" textLength="29.49" lengthAdjust="spacingAndGlyphs">n</tspan><tspan x="160.23" textLength="30.84" lengthAdjust="spacingAndGlyphs">o</tspan><tspan x="190.18" textLength="41.99" lengthAdjust="spacingAndGlyphs">m</tspan><tspan x="231.06" textLength="9.88" lengthAdjust="spacingAndGlyphs">i</tspan><tspan x="240.64" textLength="30.81" lengthAdjust="spacingAndGlyphs">e</tspan><tspan x="267.89" textLength="28.04" lengthAdjust="spacingAndGlyphs">s</tspan></text>
<text y="359.0" font-size="43.5" style="font-family:'DejaVu Sans Light','DejaVu Sans','Liberation Sans',sans-serif;font-weight:200" fill="#d9d9d9" stroke="#d9d9d9" stroke-width="0.5"><tspan x="289.37" textLength="20.35" lengthAdjust="spacingAndGlyphs">.</tspan><tspan x="298.55" textLength="31.56" lengthAdjust="spacingAndGlyphs">c</tspan><tspan x="324.16" textLength="34.05" lengthAdjust="spacingAndGlyphs">o</tspan><tspan x="351.78" textLength="42.83" lengthAdjust="spacingAndGlyphs">m</tspan></text>
<text y="399.8" font-size="43.5" font-weight="bold" fill="url(#wg)" stroke="#fff" stroke-width="0.6"><tspan x="86.78" textLength="24.83" lengthAdjust="spacingAndGlyphs">F</tspan><tspan x="110.79" textLength="24.87" lengthAdjust="spacingAndGlyphs" fill="#f3f3f3">x</tspan><tspan x="133.36" textLength="37.08" lengthAdjust="spacingAndGlyphs">N</tspan><tspan x="168.53" textLength="20.95" lengthAdjust="spacingAndGlyphs">e</tspan><tspan x="188.62" textLength="30.01" lengthAdjust="spacingAndGlyphs">w</tspan><tspan x="218.06" textLength="18.07" lengthAdjust="spacingAndGlyphs">s</tspan><tspan x="234.81" textLength="27.49" lengthAdjust="spacingAndGlyphs">T</tspan><tspan x="257.91" textLength="23.39" lengthAdjust="spacingAndGlyphs">o</tspan><tspan x="279.75" textLength="26.06" lengthAdjust="spacingAndGlyphs">d</tspan><tspan x="303.93" textLength="18.67" lengthAdjust="spacingAndGlyphs">a</tspan><tspan x="323.98" textLength="22.22" lengthAdjust="spacingAndGlyphs">y</tspan></text>
<path d="M112 377.8L120 386.3L132 377.8" stroke="#f3c9c9" stroke-width="1.7" fill="none" stroke-linecap="round" stroke-linejoin="round"/>
<path d="M114 397L125 387.3L134.5 396.5" stroke="#cfe6c6" stroke-width="1.7" fill="none" stroke-linecap="round" stroke-linejoin="round"/>
</g>
<g shape-rendering="crispEdges" fill="#000">
<rect x="4" y="4" width="1229" height="1"/>
<rect x="4" y="4" width="1" height="541"/>
<rect x="1232" y="4" width="1" height="541"/>
<rect x="4" y="464" width="1229" height="1"/>
<rect x="4" y="466" width="1229" height="1"/>
<rect x="4" y="544" width="1229" height="1"/>
<rect x="1233" y="32" width="2" height="1"/>
<rect x="1233" y="65" width="2" height="1"/>
<rect x="1233" y="98" width="2" height="1"/>
<rect x="1233" y="131" width="2" height="1"/>
<rect x="1233" y="164" width="2" height="1"/>
<rect x="1233" y="197" width="2" height="1"/>
<rect x="1233" y="230" width="2" height="1"/>
<rect x="1233" y="263" width="2" height="1"/>
<rect x="1233" y="296" width="2" height="1"/>
<rect x="1233" y="329" width="2" height="1"/>
<rect x="1233" y="362" width="2" height="1"/>
<rect x="1233" y="395" width="2" height="1"/>
<rect x="1233" y="428" width="2" height="1"/>
<rect x="1233" y="461" width="2" height="1"/>
<rect x="1233" y="264" width="1" height="1"/>
<rect x="1233" y="468" width="1" height="1"/>
<rect x="1233" y="483" width="1" height="1"/>
<rect x="1233" y="528" width="1" height="1"/>
<rect x="1233" y="543" width="1" height="1"/>
<rect x="5" y="545" width="1" height="3"/>
<rect x="69" y="545" width="1" height="3"/>
<rect x="133" y="545" width="1" height="3"/>
<rect x="197" y="545" width="1" height="3"/>
<rect x="261" y="545" width="1" height="3"/>
<rect x="325" y="545" width="1" height="3"/>
<rect x="389" y="545" width="1" height="3"/>
<rect x="453" y="545" width="1" height="3"/>
<rect x="517" y="545" width="1" height="3"/>
<rect x="581" y="545" width="1" height="3"/>
<rect x="645" y="545" width="1" height="3"/>
<rect x="709" y="545" width="1" height="3"/>
<rect x="773" y="545" width="1" height="3"/>
<rect x="837" y="545" width="1" height="3"/>
<rect x="901" y="545" width="1" height="3"/>
<rect x="965" y="545" width="1" height="3"/>
<rect x="1029" y="545" width="1" height="3"/>
</g>
<path d="M1079 5h9l-4.5 5z" fill="#c0c0c0"/>
<path d="M8 11h7l-3.5 4z" fill="#000"/>
<text transform="translate(20.4,16) scale(0.925,1)" x="0 7.57 14.05 21.62 25.95 32.43 38.92 42.16 49.73" y="0" font-size="9.8" fill="#000" stroke="#000" stroke-width="0.18">USDJPY,H4</text>
<text transform="translate(77,16) scale(0.925,1)" x="0 5.41 10.81 16.22 19.46 24.86 30.27" y="0" font-size="9.8" fill="#000" stroke="#000" stroke-width="0.18">147.940</text>
<text transform="translate(113,16) scale(0.925,1)" x="0 5.41 10.81 16.22 19.46 24.86 30.27" y="0" font-size="9.8" fill="#000" stroke="#000" stroke-width="0.18">148.003</text>
<text transform="translate(149,16) scale(0.925,1)" x="0 5.41 10.81 16.22 19.46 24.86 30.27" y="0" font-size="9.8" fill="#000" stroke="#000" stroke-width="0.18">147.862</text>
<text transform="translate(185,16) scale(0.925,1)" x="0 5.41 10.81 16.22 19.46 24.86 30.27" y="0" font-size="9.8" fill="#000" stroke="#000" stroke-width="0.18">147.882</text>
<text transform="translate(9,478.8) scale(0.925,1)" x="0 6.49 9.73 15.14 18.38 23.78 27.03 32.43 35.68 41.08 44.32 47.57 52.97 58.38 61.62 67.03 72.43 77.84 83.24 86.49 91.89 97.3 100.54 105.95 111.35 116.76" y="0" font-size="9.8" fill="#000" stroke="#000" stroke-width="0.18">Sto(5,3,3) 31.3022 21.9572</text>
<text transform="translate(1238,35.3) scale(0.925,1)" x="0 5.41 10.81 16.22 19.46 24.86 30.27" y="0" font-size="9.8" fill="#000" stroke="#000" stroke-width="0.18">150.850</text>
<text transform="translate(1238,68.3) scale(0.925,1)" x="0 5.41 10.81 16.22 19.46 24.86 30.27" y="0" font-size="9.8" fill="#000" stroke="#000" stroke-width="0.18">150.430</text>
<text transform="translate(1238,101.3) scale(0.925,1)" x="0 5.41 10.81 16.22 19.46 24.86 30.27" y="0" font-size="9.8" fill="#000" stroke="#000" stroke-width="0.18">150.010</text>
<text transform="translate(1238,134.3) scale(0.925,1)" x="0 5.41 10.81 16.22 19.46 24.86 30.27" y="0" font-size="9.8" fill="#000" stroke="#000" stroke-width="0.18">149.590</text>
<text transform="translate(1238,167.3) scale(0.925,1)" x="0 5.41 10.81 16.22 19.46 24.86 30.27" y="0" font-size="9.8" fill="#000" stroke="#000" stroke-width="0.18">149.160</text>
<text transform="translate(1238,200.3) scale(0.925,1)" x="0 5.41 10.81 16.22 19.46 24.86 30.27" y="0" font-size="9.8" fill="#000" stroke="#000" stroke-width="0.18">148.740</text>
<text transform="translate(1238,233.3) scale(0.925,1)" x="0 5.41 10.81 16.22 19.46 24.86 30.27" y="0" font-size="9.8" fill="#000" stroke="#000" stroke-width="0.18">148.320</text>
<text transform="translate(1238,266.3) scale(0.925,1)" x="0 5.41 10.81 16.22 19.46 24.86 30.27" y="0" font-size="9.8" fill="#000" stroke="#000" stroke-width="0.18">147.900</text>
<text transform="translate(1238,299.3) scale(0.925,1)" x="0 5.41 10.81 16.22 19.46 24.86 30.27" y="0" font-size="9.8" fill="#000" stroke="#000" stroke-width="0.18">147.480</text>
<text transform="translate(1238,332.3) scale(0.925,1)" x="0 5.41 10.81 16.22 19.46 24.86 30.27" y="0" font-size="9.8" fill="#000" stroke="#000" stroke-width="0.18">147.060</text>
<text transform="translate(1238,365.3) scale(0.925,1)" x="0 5.41 10.81 16.22 19.46 24.86 30.27" y="0" font-size="9.8" fill="#000" stroke="#000" stroke-width="0.18">146.640</text>
<text transform="translate(1238,398.3) scale(0.925,1)" x="0 5.41 10.81 16.22 19.46 24.86 30.27" y="0" font-size="9.8" fill="#000" stroke="#000" stroke-width="0.18">146.210</text>
<text transform="translate(1238,431.3) scale(0.925,1)" x="0 5.41 10.81 16.22 19.46 24.86 30.27" y="0" font-size="9.8" fill="#000" stroke="#000" stroke-width="0.18">145.790</text>
<text transform="translate(1238,464.3) scale(0.925,1)" x="0 5.41 10.81 16.22 19.46 24.86 30.27" y="0" font-size="9.8" fill="#000" stroke="#000" stroke-width="0.18">145.370</text>
<g shape-rendering="crispEdges">
<rect x="1234" y="259" width="41" height="11" fill="#000"/>
<rect x="1234" y="213" width="41" height="11" fill="#dc143c"/>
<rect x="1234" y="288" width="41" height="11" fill="#3cb371"/>
</g>
<text transform="translate(1238,267.2) scale(0.925,1)" x="0 5.41 10.81 16.22 19.46 24.86 30.27" y="0" font-size="9.8" fill="#fff" stroke="#fff" stroke-width="0.18">147.882</text>
<text transform="translate(1238,221.8) scale(0.925,1)" x="0 5.41 10.81 16.22 19.46 24.86 30.27" y="0" font-size="9.8" fill="#fff" stroke="#fff" stroke-width="0.18">148.463</text>
<text transform="translate(1238,296.8) scale(0.925,1)" x="0 5.41 10.81 16.22 19.46 24.86 30.27" y="0" font-size="9.8" fill="#fff" stroke="#fff" stroke-width="0.18">147.507</text>
<text transform="translate(1237,475.5) scale(0.925,1)" x="0 5.41 10.81" y="0" font-size="9.8" fill="#000" stroke="#000" stroke-width="0.18">100</text>
<text transform="translate(1235,486.6) scale(0.925,1)" x="0 5.41" y="0" font-size="9.8" fill="#000" stroke="#000" stroke-width="0.18">80</text>
<text transform="translate(1235,531.6) scale(0.925,1)" x="0 5.41" y="0" font-size="9.8" fill="#000" stroke="#000" stroke-width="0.18">20</text>
<text transform="translate(1235,540.6) scale(0.925,1)" x="0" y="0" font-size="9.8" fill="#000" stroke="#000" stroke-width="0.18">0</text>
<text transform="translate(4,557) scale(0.925,1)" x="0 5.41 10.81 14.05 18.38 23.78 25.95 29.19 34.59 40 45.41" y="0" font-size="9.8" fill="#000" stroke="#000" stroke-width="0.18">30 Jul 2025</text>
<text transform="translate(68,557) scale(0.925,1)" x="0 5.41 8.65 16.22 21.62 27.03 30.27 35.68 41.08 44.32 49.73" y="0" font-size="9.8" fill="#000" stroke="#000" stroke-width="0.18">4 Aug 04:00</text>
<text transform="translate(132,557) scale(0.925,1)" x="0 5.41 8.65 16.22 21.62 27.03 30.27 35.68 41.08 44.32 49.73" y="0" font-size="9.8" fill="#000" stroke="#000" stroke-width="0.18">6 Aug 20:00</text>
<text transform="translate(196,557) scale(0.925,1)" x="0 5.41 10.81 14.05 21.62 27.03 32.43 35.68 41.08 46.49 49.73 55.14" y="0" font-size="9.8" fill="#000" stroke="#000" stroke-width="0.18">11 Aug 12:00</text>
<text transform="translate(260,557) scale(0.925,1)" x="0 5.41 10.81 14.05 21.62 27.03 32.43 35.68 41.08 46.49 49.73 55.14" y="0" font-size="9.8" fill="#000" stroke="#000" stroke-width="0.18">14 Aug 04:00</text>
<text transform="translate(324,557) scale(0.925,1)" x="0 5.41 10.81 14.05 21.62 27.03 32.43 35.68 41.08 46.49 49.73 55.14" y="0" font-size="9.8" fill="#000" stroke="#000" stroke-width="0.18">18 Aug 20:00</text>
<text transform="translate(388,557) scale(0.925,1)" x="0 5.41 10.81 14.05 21.62 27.03 32.43 35.68 41.08 46.49 49.73 55.14" y="0" font-size="9.8" fill="#000" stroke="#000" stroke-width="0.18">21 Aug 12:00</text>
<text transform="translate(452,557) scale(0.925,1)" x="0 5.41 10.81 14.05 21.62 27.03 32.43 35.68 41.08 46.49 49.73 55.14" y="0" font-size="9.8" fill="#000" stroke="#000" stroke-width="0.18">26 Aug 04:00</text>
<text transform="translate(516,557) scale(0.925,1)" x="0 5.41 10.81 14.05 21.62 27.03 32.43 35.68 41.08 46.49 49.73 55.14" y="0" font-size="9.8" fill="#000" stroke="#000" stroke-width="0.18">28 Aug 20:00</text>
<text transform="translate(580,557) scale(0.925,1)" x="0 5.41 8.65 15.14 20.54 25.95 29.19 34.59 40 43.24 48.65" y="0" font-size="9.8" fill="#000" stroke="#000" stroke-width="0.18">2 Sep 12:00</text>
<text transform="translate(644,557) scale(0.925,1)" x="0 5.41 8.65 15.14 20.54 25.95 29.19 34.59 40 43.24 48.65" y="0" font-size="9.8" fill="#000" stroke="#000" stroke-width="0.18">5 Sep 04:00</text>
<text transform="translate(708,557) scale(0.925,1)" x="0 5.41 8.65 15.14 20.54 25.95 29.19 34.59 40 43.24 48.65" y="0" font-size="9.8" fill="#000" stroke="#000" stroke-width="0.18">9 Sep 20:00</text>
<text transform="translate(772,557) scale(0.925,1)" x="0 5.41 10.81 14.05 20.54 25.95 31.35 34.59 40 45.41 48.65 54.05" y="0" font-size="9.8" fill="#000" stroke="#000" stroke-width="0.18">12 Sep 12:00</text>
<text transform="translate(836,557) scale(0.925,1)" x="0 5.41 10.81 14.05 20.54 25.95 31.35 34.59 40 45.41 48.65 54.05" y="0" font-size="9.8" fill="#000" stroke="#000" stroke-width="0.18">17 Sep 04:00</text>
<text transform="translate(900,557) scale(0.925,1)" x="0 5.41 10.81 14.05 20.54 25.95 31.35 34.59 40 45.41 48.65 54.05" y="0" font-size="9.8" fill="#000" stroke="#000" stroke-width="0.18">19 Sep 20:00</text>
<text transform="translate(964,557) scale(0.925,1)" x="0 5.41 10.81 14.05 20.54 25.95 31.35 34.59 40 45.41 48.65 54.05" y="0" font-size="9.8" fill="#000" stroke="#000" stroke-width="0.18">24 Sep 12:00</text>
<text transform="translate(1028,557) scale(0.925,1)" x="0 5.41 10.81 14.05 20.54 25.95 31.35 34.59 40 45.41 48.65 54.05" y="0" font-size="9.8" fill="#000" stroke="#000" stroke-width="0.18">29 Sep 04:00</text>
</svg></body></html>
